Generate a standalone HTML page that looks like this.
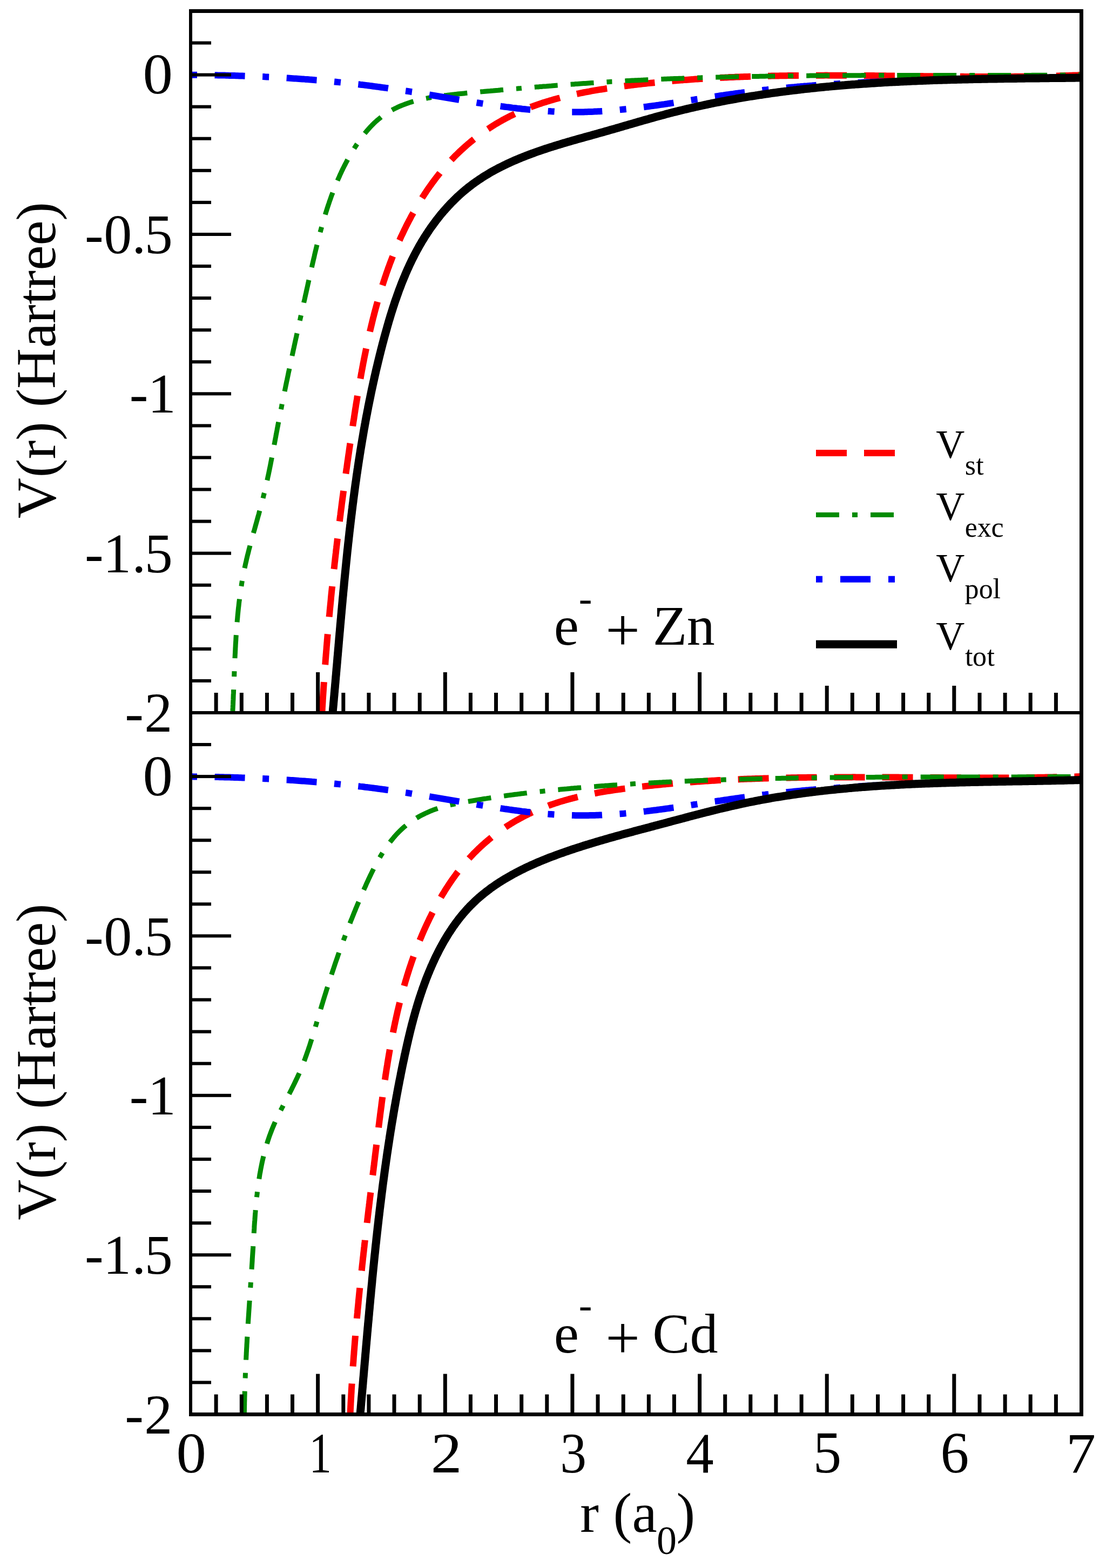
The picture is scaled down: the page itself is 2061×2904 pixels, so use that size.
<!DOCTYPE html><html><head><meta charset="utf-8"><title>V(r) plot</title><style>html,body{margin:0;padding:0;background:#fff;}svg{display:block;}</style></head><body><svg width="2061" height="2904" viewBox="0 0 2061 2904"><rect x="0" y="0" width="2061" height="2904" fill="#fff"/>
<defs><clipPath id="ct"><rect x="353" y="20.5" width="1649.5" height="1299.5"/></clipPath><clipPath id="cb"><rect x="353" y="1320" width="1649.5" height="1299.5"/></clipPath></defs>
<g clip-path="url(#ct)">
<path d="M596.3,1320.0 L596.5,1317.0 L596.7,1314.0 L596.8,1311.0 L597.0,1308.0 L597.2,1305.0 L597.4,1302.0 L597.6,1299.1 L597.7,1296.1 L597.9,1293.1 L598.1,1290.1 L598.3,1287.1 L598.5,1284.1 L598.7,1281.1 L598.9,1278.1 L599.1,1275.1 L599.3,1272.1 L599.5,1269.1 L599.7,1266.1 L599.9,1263.1 L600.1,1260.1 L600.3,1257.1 L600.5,1254.1 L600.7,1251.2 L600.9,1248.2 L601.2,1245.2 L601.4,1242.2 L601.6,1239.2 L601.8,1236.2 L602.0,1233.2 L602.3,1230.2 L602.5,1227.2 L602.7,1224.2 L602.9,1221.2 L603.2,1218.2 L603.4,1215.3 L603.6,1212.3 L603.9,1209.3 L604.1,1206.3 L604.4,1203.3 L604.6,1200.3 L604.8,1197.3 L605.1,1194.3 L605.3,1191.3 L605.6,1188.3 L605.8,1185.4 L606.1,1182.4 L606.3,1179.4 L606.6,1176.4 L606.9,1173.4 L607.1,1170.4 L607.4,1167.4 L607.6,1164.4 L607.9,1161.4 L608.2,1158.5 L608.4,1155.5 L608.7,1152.5 L609.0,1149.5 L609.2,1146.5 L609.5,1143.5 L609.8,1140.5 L610.1,1137.5 L610.4,1134.6 L610.6,1131.6 L610.9,1128.6 L611.2,1125.6 L611.5,1122.6 L611.8,1119.6 L612.1,1116.6 L612.4,1113.7 L612.7,1110.7 L612.9,1107.7 L613.2,1104.7 L613.5,1101.7 L613.8,1098.7 L614.1,1095.7 L614.4,1092.8 L614.7,1089.8 L615.1,1086.8 L615.4,1083.8 L615.7,1080.8 L616.0,1077.8 L616.3,1074.9 L616.6,1071.9 L616.9,1068.9 L617.2,1065.9 L617.6,1062.9 L617.9,1059.9 L618.2,1057.0 L618.5,1054.0 L618.9,1051.0 L619.2,1048.0 L619.5,1045.0 L619.8,1042.0 L620.2,1039.1 L620.5,1036.1 L620.8,1033.1 L621.2,1030.1 L621.5,1027.1 L621.9,1024.2 L622.2,1021.2 L622.5,1018.2 L622.9,1015.2 L623.2,1012.2 L623.6,1009.3 L623.9,1006.3 L624.3,1003.3 L624.6,1000.3 L625.0,997.3 L625.3,994.4 L625.7,991.4 L626.1,988.4 L626.4,985.4 L626.8,982.4 L627.1,979.5 L627.5,976.5 L627.9,973.5 L628.2,970.5 L628.6,967.6 L629.0,964.6 L629.3,961.6 L629.7,958.6 L630.1,955.6 L630.5,952.7 L630.8,949.7 L631.2,946.7 L631.6,943.7 L632.0,940.8 L632.4,937.8 L632.7,934.8 L633.1,931.8 L633.5,928.9 L633.9,925.9 L634.3,922.9 L634.7,919.9 L635.1,917.0 L635.5,914.0 L635.9,911.0 L636.3,908.0 L636.7,905.1 L637.1,902.1 L637.5,899.1 L637.9,896.2 L638.3,893.2 L638.7,890.2 L639.1,887.2 L639.5,884.3 L639.9,881.3 L640.3,878.3 L640.7,875.3 L641.1,872.4 L641.5,869.4 L642.0,866.4 L642.4,863.5 L642.8,860.5 L643.2,857.5 L643.6,854.6 L644.1,851.6 L644.5,848.6 L644.9,845.6 L645.3,842.7 L645.8,839.7 L646.2,836.7 L646.6,833.8 L647.0,830.8 L647.5,827.8 L647.9,824.9 L648.3,821.9 L648.8,818.9 L649.2,816.0 L649.7,813.0 L650.1,810.0 L650.5,807.1 L651.0,804.1 L651.4,801.1 L651.9,798.1 L652.3,795.2 L652.8,792.2 L653.2,789.2 L653.6,786.3 L654.1,783.3 L654.5,780.4 L655.0,777.4 L655.5,774.4 L655.9,771.5 L656.4,768.5 L656.8,765.5 L657.3,762.6 L657.7,759.6 L658.2,756.6 L658.7,753.7 L659.1,750.7 L659.6,747.7 L660.1,744.8 L660.6,741.8 L661.1,738.9 L661.5,735.9 L662.0,732.9 L662.5,730.0 L663.0,727.0 L663.5,724.1 L664.0,721.1 L664.5,718.1 L665.0,715.2 L665.5,712.2 L666.0,709.3 L666.5,706.3 L667.0,703.4 L667.6,700.4 L668.1,697.5 L668.6,694.5 L669.1,691.5 L669.7,688.6 L670.2,685.6 L670.8,682.7 L671.3,679.7 L671.9,676.8 L672.4,673.8 L673.0,670.9 L673.6,668.0 L674.1,665.0 L674.7,662.1 L675.3,659.1 L675.9,656.2 L676.5,653.2 L677.1,650.3 L677.7,647.4 L678.3,644.4 L678.9,641.5 L679.5,638.6 L680.2,635.6 L680.8,632.7 L681.4,629.8 L682.1,626.8 L682.7,623.9 L683.4,621.0 L684.0,618.0 L684.7,615.1 L685.4,612.2 L686.1,609.3 L686.8,606.4 L687.5,603.4 L688.2,600.5 L688.9,597.6 L689.6,594.7 L690.3,591.8 L691.0,588.9 L691.8,586.0 L692.5,583.1 L693.3,580.2 L694.0,577.3 L694.8,574.4 L695.6,571.5 L696.4,568.6 L697.2,565.7 L698.0,562.8 L698.8,559.9 L699.6,557.0 L700.4,554.1 L701.3,551.2 L702.1,548.4 L702.9,545.5 L703.8,542.6 L704.7,539.7 L705.6,536.9 L706.4,534.0 L707.3,531.1 L708.2,528.3 L709.2,525.4 L710.1,522.6 L711.0,519.7 L712.0,516.9 L712.9,514.0 L713.9,511.2 L714.9,508.3 L715.8,505.5 L716.8,502.7 L717.8,499.9 L718.8,497.0 L719.9,494.2 L720.9,491.4 L721.9,488.6 L723.0,485.8 L724.1,483.0 L725.1,480.2 L726.2,477.4 L727.3,474.6 L728.4,471.8 L729.6,469.0 L730.7,466.2 L731.8,463.5 L733.0,460.7 L734.2,457.9 L735.3,455.2 L736.5,452.4 L737.7,449.7 L738.9,446.9 L740.2,444.2 L741.4,441.4 L742.6,438.7 L743.9,436.0 L745.2,433.3 L746.5,430.6 L747.8,427.9 L749.1,425.2 L750.4,422.5 L751.7,419.8 L753.1,417.1 L754.4,414.4 L755.8,411.8 L757.2,409.1 L758.6,406.4 L760.0,403.8 L761.4,401.1 L762.8,398.5 L764.3,395.9 L765.7,393.3 L767.2,390.6 L768.7,388.0 L770.2,385.4 L771.7,382.9 L773.2,380.3 L774.8,377.7 L776.3,375.1 L777.9,372.6 L779.5,370.0 L781.1,367.5 L782.7,364.9 L784.3,362.4 L785.9,359.9 L787.6,357.4 L789.2,354.9 L790.9,352.4 L792.6,349.9 L794.3,347.5 L796.0,345.0 L797.8,342.6 L799.5,340.1 L801.3,337.7 L803.1,335.3 L804.9,332.9 L806.7,330.5 L808.5,328.1 L810.4,325.8 L812.2,323.4 L814.1,321.1 L816.0,318.7 L817.9,316.4 L819.8,314.1 L821.7,311.8 L823.7,309.5 L825.7,307.3 L827.7,305.0 L829.7,302.8 L831.7,300.6 L833.7,298.4 L835.8,296.2 L837.8,294.0 L839.9,291.9 L842.0,289.7 L844.1,287.6 L846.3,285.5 L848.4,283.4 L850.6,281.3 L852.8,279.3 L855.0,277.2 L857.2,275.2 L859.4,273.2 L861.6,271.2 L863.9,269.2 L866.2,267.2 L868.5,265.3 L870.8,263.4 L873.1,261.5 L875.4,259.6 L877.8,257.7 L880.1,255.9 L882.5,254.0 L884.9,252.2 L887.3,250.4 L889.7,248.6 L892.1,246.9 L894.6,245.1 L897.0,243.4 L899.5,241.7 L902.0,240.0 L904.5,238.4 L907.0,236.7 L909.5,235.1 L912.0,233.5 L914.6,231.9 L917.1,230.3 L919.7,228.8 L922.3,227.3 L924.9,225.7 L927.5,224.3 L930.1,222.8 L932.7,221.3 L935.4,219.9 L938.0,218.5 L940.7,217.1 L943.3,215.7 L946.0,214.4 L948.7,213.1 L951.4,211.8 L954.1,210.5 L956.9,209.2 L959.6,208.0 L962.3,206.8 L965.1,205.6 L967.8,204.4 L970.6,203.2 L973.4,202.1 L976.2,201.0 L978.9,199.8 L981.7,198.8 L984.5,197.7 L987.4,196.7 L990.2,195.6 L993.0,194.6 L995.8,193.6 L998.7,192.6 L1001.5,191.7 L1004.4,190.7 L1007.2,189.8 L1010.1,188.9 L1012.9,188.0 L1015.8,187.2 L1018.7,186.3 L1021.6,185.5 L1024.4,184.6 L1027.3,183.8 L1030.2,183.0 L1033.1,182.2 L1036.0,181.5 L1038.9,180.7 L1041.8,180.0 L1044.7,179.2 L1047.7,178.5 L1050.6,177.8 L1053.5,177.1 L1056.4,176.5 L1059.3,175.8 L1062.3,175.2 L1065.2,174.5 L1068.1,173.9 L1071.1,173.3 L1074.0,172.7 L1077.0,172.1 L1079.9,171.5 L1082.8,170.9 L1085.8,170.4 L1088.7,169.8 L1091.7,169.3 L1094.6,168.7 L1097.6,168.2 L1100.5,167.7 L1103.5,167.2 L1106.5,166.7 L1109.4,166.2 L1112.4,165.7 L1115.3,165.3 L1118.3,164.8 L1121.3,164.3 L1124.2,163.9 L1127.2,163.4 L1130.2,163.0 L1133.1,162.6 L1136.1,162.1 L1139.1,161.7 L1142.1,161.3 L1145.0,160.9 L1148.0,160.5 L1151.0,160.1 L1154.0,159.7 L1156.9,159.3 L1159.9,159.0 L1162.9,158.6 L1165.9,158.2 L1168.8,157.9 L1171.8,157.5 L1174.8,157.1 L1177.8,156.8 L1180.8,156.4 L1183.7,156.1 L1186.7,155.7 L1189.7,155.4 L1192.7,155.1 L1195.7,154.8 L1198.6,154.4 L1201.6,154.1 L1204.6,153.8 L1207.6,153.5 L1210.6,153.2 L1213.6,152.9 L1216.5,152.6 L1219.5,152.3 L1222.5,152.0 L1225.5,151.7 L1228.5,151.4 L1231.5,151.2 L1234.5,150.9 L1237.5,150.6 L1240.4,150.4 L1243.4,150.1 L1246.4,149.8 L1249.4,149.6 L1252.4,149.3 L1255.4,149.1 L1258.4,148.8 L1261.4,148.6 L1264.4,148.4 L1267.4,148.1 L1270.3,147.9 L1273.3,147.7 L1276.3,147.5 L1279.3,147.3 L1282.3,147.1 L1285.3,146.8 L1288.3,146.6 L1291.3,146.4 L1294.3,146.2 L1297.3,146.1 L1300.3,145.9 L1303.3,145.7 L1306.3,145.5 L1309.3,145.3 L1312.3,145.1 L1315.2,145.0 L1318.2,144.8 L1321.2,144.6 L1324.2,144.5 L1327.2,144.3 L1330.2,144.2 L1333.2,144.0 L1336.2,143.8 L1339.2,143.7 L1342.2,143.6 L1345.2,143.4 L1348.2,143.3 L1351.2,143.1 L1354.2,143.0 L1357.2,142.9 L1360.2,142.8 L1363.2,142.6 L1366.2,142.5 L1369.2,142.4 L1372.2,142.3 L1375.2,142.2 L1378.2,142.1 L1381.2,142.0 L1384.2,141.9 L1387.2,141.8 L1390.2,141.7 L1393.2,141.6 L1396.2,141.5 L1399.2,141.4 L1402.2,141.3 L1405.2,141.2 L1408.2,141.1 L1411.2,141.1 L1414.2,141.0 L1417.2,140.9 L1420.2,140.8 L1423.2,140.8 L1426.2,140.7 L1429.2,140.6 L1432.2,140.6 L1435.2,140.5 L1438.2,140.5 L1441.2,140.4 L1444.2,140.3 L1447.2,140.3 L1450.2,140.2 L1453.2,140.2 L1456.2,140.2 L1459.2,140.1 L1462.2,140.1 L1465.2,140.0 L1468.2,140.0 L1471.2,140.0 L1474.2,139.9 L1477.2,139.9 L1480.2,139.9 L1483.2,139.8 L1486.2,139.8 L1489.2,139.8 L1492.2,139.8 L1495.2,139.8 L1498.2,139.7 L1501.2,139.7 L1504.2,139.7 L1507.2,139.7 L1510.2,139.7 L1513.2,139.7 L1516.2,139.7 L1519.2,139.7 L1522.2,139.7 L1525.2,139.7 L1528.2,139.6 L1531.2,139.6 L1534.2,139.7 L1537.2,139.7 L1540.2,139.7 L1543.2,139.7 L1546.2,139.7 L1549.2,139.7 L1552.2,139.7 L1555.2,139.7 L1558.2,139.7 L1561.2,139.7 L1564.2,139.7 L1567.2,139.7 L1570.2,139.8 L1573.2,139.8 L1576.2,139.8 L1579.1,139.8 L1582.1,139.8 L1585.1,139.8 L1588.1,139.9 L1591.1,139.9 L1594.1,139.9 L1597.1,139.9 L1600.1,140.0 L1603.1,140.0 L1606.1,140.0 L1609.1,140.0 L1612.1,140.1 L1615.1,140.1 L1618.1,140.1 L1621.1,140.2 L1624.1,140.2 L1627.1,140.2 L1630.1,140.2 L1633.1,140.3 L1636.1,140.3 L1639.1,140.3 L1642.1,140.4 L1645.1,140.4 L1648.1,140.4 L1651.1,140.5 L1654.1,140.5 L1657.1,140.5 L1660.1,140.6 L1663.1,140.6 L1666.1,140.6 L1669.1,140.7 L1672.1,140.7 L1675.1,140.7 L1678.1,140.8 L1681.1,140.8 L1684.1,140.9 L1687.1,140.9 L1690.1,140.9 L1693.1,141.0 L1696.1,141.0 L1699.1,141.0 L1702.1,141.1 L1705.1,141.1 L1708.1,141.1 L1711.1,141.2 L1714.1,141.2 L1717.1,141.2 L1720.1,141.3 L1723.1,141.3 L1726.1,141.3 L1729.1,141.4 L1732.1,141.4 L1735.1,141.4 L1738.1,141.5 L1741.1,141.5 L1744.1,141.5 L1747.1,141.5 L1750.1,141.6 L1753.1,141.6 L1756.1,141.6 L1759.1,141.7 L1762.1,141.7 L1765.1,141.7 L1768.1,141.7 L1771.1,141.7 L1774.1,141.8 L1777.1,141.8 L1780.1,141.8 L1783.1,141.8 L1786.1,141.9 L1789.1,141.9 L1792.1,141.9 L1795.1,141.9 L1798.1,141.9 L1801.1,141.9 L1804.1,141.9 L1807.1,142.0 L1810.1,142.0 L1813.1,142.0 L1816.1,142.0 L1819.1,142.0 L1822.1,142.0 L1825.1,142.0 L1828.1,142.0 L1831.1,142.0 L1834.1,142.0 L1837.1,142.0 L1840.1,142.0 L1843.1,142.0 L1846.1,142.0 L1849.1,142.0 L1852.1,142.0 L1855.1,142.0 L1858.1,142.0 L1861.1,141.9 L1864.1,141.9 L1867.1,141.9 L1870.1,141.9 L1873.1,141.9 L1876.1,141.9 L1879.1,141.8 L1882.1,141.8 L1885.1,141.8 L1888.1,141.7 L1891.1,141.7 L1894.1,141.7 L1897.1,141.7 L1900.1,141.6 L1903.1,141.6 L1906.1,141.5 L1909.1,141.5 L1912.1,141.4 L1915.1,141.4 L1918.1,141.4 L1921.1,141.3 L1924.1,141.2 L1927.1,141.2 L1930.1,141.1 L1933.1,141.1 L1936.1,141.0 L1939.1,140.9 L1942.1,140.9 L1945.1,140.8 L1948.1,140.7 L1951.1,140.7 L1954.1,140.6 L1957.1,140.5 L1960.1,140.4 L1963.1,140.3 L1966.1,140.3 L1969.1,140.2 L1972.1,140.1 L1975.1,140.0 L1978.1,139.9 L1981.1,139.8 L1984.1,139.7 L1987.1,139.6 L1990.1,139.5 L1993.1,139.4 L1996.1,139.3 L1999.1,139.1 L2002.1,139.0 L2003.0,139.0" fill="none" stroke="#ff0000" stroke-width="12" stroke-linejoin="round" stroke-linecap="butt" stroke-dasharray="57 32" stroke-dashoffset="0"/>
<path d="M430.7,1320.0 L430.9,1317.0 L431.0,1314.0 L431.2,1311.0 L431.3,1308.0 L431.5,1305.0 L431.6,1302.0 L431.7,1299.0 L431.9,1296.0 L432.0,1293.0 L432.1,1290.0 L432.2,1287.0 L432.4,1284.0 L432.5,1281.0 L432.6,1278.0 L432.7,1275.0 L432.9,1272.0 L433.0,1269.0 L433.1,1266.1 L433.2,1263.1 L433.3,1260.1 L433.4,1257.1 L433.6,1254.1 L433.7,1251.1 L433.8,1248.1 L433.9,1245.1 L434.0,1242.1 L434.2,1239.1 L434.3,1236.1 L434.4,1233.1 L434.5,1230.1 L434.7,1227.1 L434.8,1224.1 L434.9,1221.1 L435.0,1218.1 L435.2,1215.1 L435.3,1212.1 L435.5,1209.1 L435.6,1206.1 L435.8,1203.1 L435.9,1200.1 L436.1,1197.1 L436.2,1194.1 L436.4,1191.1 L436.6,1188.1 L436.8,1185.1 L436.9,1182.1 L437.1,1179.1 L437.3,1176.2 L437.5,1173.2 L437.7,1170.2 L437.9,1167.2 L438.1,1164.2 L438.4,1161.2 L438.6,1158.2 L438.8,1155.2 L439.1,1152.2 L439.3,1149.2 L439.6,1146.2 L439.9,1143.3 L440.1,1140.3 L440.4,1137.3 L440.7,1134.3 L441.0,1131.3 L441.3,1128.3 L441.6,1125.3 L442.0,1122.4 L442.3,1119.4 L442.6,1116.4 L443.0,1113.4 L443.4,1110.4 L443.7,1107.5 L444.1,1104.5 L444.5,1101.5 L444.9,1098.5 L445.4,1095.6 L445.8,1092.6 L446.2,1089.6 L446.7,1086.7 L447.2,1083.7 L447.6,1080.7 L448.1,1077.8 L448.6,1074.8 L449.1,1071.9 L449.7,1068.9 L450.2,1066.0 L450.8,1063.0 L451.4,1060.1 L451.9,1057.1 L452.5,1054.2 L453.2,1051.3 L453.8,1048.3 L454.4,1045.4 L455.1,1042.5 L455.8,1039.5 L456.4,1036.6 L457.1,1033.7 L457.8,1030.8 L458.5,1027.9 L459.3,1025.0 L460.0,1022.1 L460.7,1019.2 L461.5,1016.2 L462.3,1013.3 L463.0,1010.4 L463.8,1007.5 L464.6,1004.6 L465.4,1001.8 L466.1,998.9 L466.9,996.0 L467.7,993.1 L468.5,990.2 L469.3,987.3 L470.1,984.4 L471.0,981.5 L471.8,978.6 L472.6,975.7 L473.4,972.8 L474.2,970.0 L475.0,967.1 L475.8,964.2 L476.6,961.3 L477.4,958.4 L478.2,955.5 L479.1,952.6 L479.8,949.7 L480.6,946.8 L481.4,943.9 L482.2,941.0 L483.0,938.2 L483.8,935.3 L484.5,932.4 L485.3,929.4 L486.0,926.5 L486.8,923.6 L487.5,920.7 L488.2,917.8 L488.9,914.9 L489.7,912.0 L490.3,909.1 L491.0,906.1 L491.7,903.2 L492.4,900.3 L493.0,897.4 L493.7,894.4 L494.3,891.5 L495.0,888.6 L495.6,885.7 L496.2,882.7 L496.9,879.8 L497.5,876.9 L498.1,873.9 L498.7,871.0 L499.3,868.0 L499.9,865.1 L500.5,862.2 L501.1,859.2 L501.6,856.3 L502.2,853.3 L502.8,850.4 L503.4,847.4 L503.9,844.5 L504.5,841.5 L505.0,838.6 L505.6,835.6 L506.2,832.7 L506.7,829.7 L507.3,826.8 L507.8,823.9 L508.4,820.9 L508.9,818.0 L509.5,815.0 L510.0,812.1 L510.6,809.1 L511.1,806.2 L511.7,803.2 L512.2,800.3 L512.8,797.3 L513.3,794.4 L513.9,791.4 L514.5,788.5 L515.0,785.5 L515.6,782.6 L516.2,779.6 L516.7,776.7 L517.3,773.7 L517.9,770.8 L518.4,767.9 L519.0,764.9 L519.6,762.0 L520.2,759.0 L520.8,756.1 L521.4,753.1 L521.9,750.2 L522.5,747.3 L523.1,744.3 L523.7,741.4 L524.3,738.4 L524.9,735.5 L525.5,732.5 L526.1,729.6 L526.7,726.7 L527.3,723.7 L527.9,720.8 L528.5,717.9 L529.1,714.9 L529.7,712.0 L530.3,709.0 L530.9,706.1 L531.6,703.2 L532.2,700.2 L532.8,697.3 L533.4,694.4 L534.0,691.4 L534.6,688.5 L535.3,685.6 L535.9,682.6 L536.5,679.7 L537.1,676.7 L537.8,673.8 L538.4,670.9 L539.0,667.9 L539.6,665.0 L540.3,662.1 L540.9,659.1 L541.5,656.2 L542.2,653.3 L542.8,650.4 L543.4,647.4 L544.1,644.5 L544.7,641.6 L545.4,638.6 L546.0,635.7 L546.6,632.8 L547.3,629.8 L547.9,626.9 L548.6,624.0 L549.2,621.0 L549.9,618.1 L550.5,615.2 L551.1,612.3 L551.8,609.3 L552.4,606.4 L553.1,603.5 L553.7,600.5 L554.4,597.6 L555.0,594.7 L555.7,591.7 L556.3,588.8 L557.0,585.9 L557.6,583.0 L558.3,580.0 L558.9,577.1 L559.6,574.2 L560.2,571.2 L560.9,568.3 L561.5,565.4 L562.2,562.5 L562.8,559.5 L563.5,556.6 L564.2,553.7 L564.8,550.8 L565.5,547.8 L566.1,544.9 L566.8,542.0 L567.4,539.0 L568.1,536.1 L568.7,533.2 L569.4,530.3 L570.0,527.3 L570.7,524.4 L571.3,521.5 L572.0,518.5 L572.7,515.6 L573.3,512.7 L574.0,509.8 L574.6,506.8 L575.3,503.9 L575.9,501.0 L576.6,498.1 L577.3,495.1 L577.9,492.2 L578.6,489.3 L579.2,486.4 L579.9,483.4 L580.6,480.5 L581.3,477.6 L582.0,474.7 L582.6,471.7 L583.3,468.8 L584.0,465.9 L584.7,463.0 L585.4,460.1 L586.1,457.2 L586.8,454.2 L587.6,451.3 L588.3,448.4 L589.0,445.5 L589.8,442.6 L590.5,439.7 L591.2,436.8 L592.0,433.9 L592.8,431.0 L593.5,428.1 L594.3,425.2 L595.1,422.3 L595.9,419.4 L596.7,416.5 L597.5,413.6 L598.4,410.7 L599.2,407.9 L600.0,405.0 L600.9,402.1 L601.8,399.2 L602.6,396.4 L603.5,393.5 L604.4,390.6 L605.3,387.8 L606.2,384.9 L607.2,382.1 L608.1,379.2 L609.1,376.4 L610.0,373.5 L611.0,370.7 L612.0,367.9 L613.0,365.0 L614.0,362.2 L615.1,359.4 L616.1,356.6 L617.2,353.8 L618.3,351.0 L619.4,348.2 L620.5,345.4 L621.6,342.6 L622.7,339.9 L623.9,337.1 L625.1,334.3 L626.2,331.6 L627.5,328.8 L628.7,326.1 L629.9,323.3 L631.2,320.6 L632.4,317.9 L633.7,315.2 L635.0,312.5 L636.4,309.8 L637.7,307.1 L639.1,304.5 L640.5,301.8 L641.9,299.1 L643.3,296.5 L644.7,293.9 L646.2,291.3 L647.7,288.6 L649.2,286.0 L650.7,283.5 L652.2,280.9 L653.8,278.3 L655.4,275.8 L657.0,273.2 L658.6,270.7 L660.2,268.2 L661.9,265.7 L663.6,263.2 L665.3,260.8 L667.0,258.3 L668.8,255.9 L670.6,253.5 L672.4,251.1 L674.2,248.7 L676.1,246.4 L678.0,244.0 L679.9,241.8 L681.9,239.5 L683.9,237.2 L685.9,235.0 L688.0,232.9 L690.1,230.7 L692.2,228.6 L694.4,226.5 L696.6,224.5 L698.9,222.5 L701.2,220.6 L703.5,218.7 L705.8,216.8 L708.2,215.0 L710.7,213.3 L713.1,211.6 L715.7,209.9 L718.2,208.3 L720.8,206.8 L723.3,205.3 L726.0,203.8 L728.6,202.4 L731.3,201.0 L734.0,199.7 L736.7,198.4 L739.4,197.2 L742.2,196.0 L745.0,194.9 L747.7,193.8 L750.5,192.7 L753.4,191.7 L756.2,190.7 L759.1,189.8 L761.9,188.9 L764.8,188.0 L767.7,187.2 L770.6,186.4 L773.5,185.7 L776.4,184.9 L779.3,184.3 L782.2,183.6 L785.2,183.0 L788.1,182.4 L791.1,181.8 L794.0,181.2 L797.0,180.7 L799.9,180.2 L802.9,179.7 L805.8,179.3 L808.8,178.8 L811.8,178.4 L814.8,178.0 L817.7,177.6 L820.7,177.2 L823.7,176.8 L826.7,176.5 L829.6,176.1 L832.6,175.8 L835.6,175.4 L838.6,175.1 L841.6,174.7 L844.5,174.4 L847.5,174.1 L850.5,173.8 L853.5,173.5 L856.5,173.2 L859.5,172.9 L862.4,172.6 L865.4,172.3 L868.4,172.0 L871.4,171.7 L874.4,171.5 L877.4,171.2 L880.4,170.9 L883.4,170.6 L886.3,170.4 L889.3,170.1 L892.3,169.8 L895.3,169.6 L898.3,169.3 L901.3,169.0 L904.3,168.7 L907.3,168.5 L910.2,168.2 L913.2,168.0 L916.2,167.7 L919.2,167.4 L922.2,167.2 L925.2,166.9 L928.2,166.6 L931.2,166.4 L934.2,166.1 L937.1,165.9 L940.1,165.6 L943.1,165.3 L946.1,165.1 L949.1,164.8 L952.1,164.6 L955.1,164.3 L958.1,164.1 L961.1,163.8 L964.0,163.6 L967.0,163.3 L970.0,163.1 L973.0,162.8 L976.0,162.6 L979.0,162.3 L982.0,162.1 L985.0,161.8 L988.0,161.6 L991.0,161.3 L993.9,161.1 L996.9,160.9 L999.9,160.6 L1002.9,160.4 L1005.9,160.1 L1008.9,159.9 L1011.9,159.7 L1014.9,159.4 L1017.9,159.2 L1020.9,159.0 L1023.8,158.7 L1026.8,158.5 L1029.8,158.3 L1032.8,158.1 L1035.8,157.8 L1038.8,157.6 L1041.8,157.4 L1044.8,157.2 L1047.8,156.9 L1050.8,156.7 L1053.8,156.5 L1056.8,156.3 L1059.8,156.1 L1062.7,155.9 L1065.7,155.6 L1068.7,155.4 L1071.7,155.2 L1074.7,155.0 L1077.7,154.8 L1080.7,154.6 L1083.7,154.4 L1086.7,154.2 L1089.7,154.0 L1092.7,153.8 L1095.7,153.6 L1098.7,153.4 L1101.7,153.2 L1104.6,153.0 L1107.6,152.8 L1110.6,152.6 L1113.6,152.4 L1116.6,152.3 L1119.6,152.1 L1122.6,151.9 L1125.6,151.7 L1128.6,151.5 L1131.6,151.3 L1134.6,151.2 L1137.6,151.0 L1140.6,150.8 L1143.6,150.6 L1146.6,150.5 L1149.6,150.3 L1152.6,150.1 L1155.6,150.0 L1158.5,149.8 L1161.5,149.6 L1164.5,149.5 L1167.5,149.3 L1170.5,149.1 L1173.5,149.0 L1176.5,148.8 L1179.5,148.7 L1182.5,148.5 L1185.5,148.4 L1188.5,148.2 L1191.5,148.1 L1194.5,147.9 L1197.5,147.8 L1200.5,147.7 L1203.5,147.5 L1206.5,147.4 L1209.5,147.2 L1212.5,147.1 L1215.5,147.0 L1218.5,146.8 L1221.5,146.7 L1224.5,146.6 L1227.5,146.5 L1230.5,146.3 L1233.5,146.2 L1236.5,146.1 L1239.5,146.0 L1242.5,145.8 L1245.5,145.7 L1248.5,145.6 L1251.4,145.5 L1254.4,145.4 L1257.4,145.3 L1260.4,145.2 L1263.4,145.1 L1266.4,144.9 L1269.4,144.8 L1272.4,144.7 L1275.4,144.6 L1278.4,144.5 L1281.4,144.4 L1284.4,144.3 L1287.4,144.2 L1290.4,144.1 L1293.4,144.0 L1296.4,143.9 L1299.4,143.8 L1302.4,143.8 L1305.4,143.7 L1308.4,143.6 L1311.4,143.5 L1314.4,143.4 L1317.4,143.3 L1320.4,143.2 L1323.4,143.2 L1326.4,143.1 L1329.4,143.0 L1332.4,142.9 L1335.4,142.8 L1338.4,142.8 L1341.4,142.7 L1344.4,142.6 L1347.4,142.5 L1350.4,142.5 L1353.4,142.4 L1356.4,142.3 L1359.4,142.3 L1362.4,142.2 L1365.4,142.1 L1368.4,142.1 L1371.4,142.0 L1374.4,141.9 L1377.4,141.9 L1380.4,141.8 L1383.4,141.7 L1386.4,141.7 L1389.4,141.6 L1392.4,141.6 L1395.4,141.5 L1398.4,141.5 L1401.4,141.4 L1404.4,141.4 L1407.4,141.3 L1410.4,141.3 L1413.4,141.2 L1416.4,141.2 L1419.4,141.1 L1422.4,141.1 L1425.4,141.0 L1428.4,141.0 L1431.4,140.9 L1434.4,140.9 L1437.4,140.8 L1440.4,140.8 L1443.4,140.8 L1446.4,140.7 L1449.4,140.7 L1452.4,140.6 L1455.4,140.6 L1458.4,140.6 L1461.4,140.5 L1464.4,140.5 L1467.4,140.5 L1470.4,140.4 L1473.4,140.4 L1476.4,140.4 L1479.4,140.3 L1482.4,140.3 L1485.4,140.3 L1488.4,140.2 L1491.4,140.2 L1494.4,140.2 L1497.4,140.2 L1500.4,140.1 L1503.4,140.1 L1506.4,140.1 L1509.4,140.1 L1512.4,140.0 L1515.4,140.0 L1518.4,140.0 L1521.4,140.0 L1524.4,140.0 L1527.4,139.9 L1530.4,139.9 L1533.4,139.9 L1536.4,139.9 L1539.4,139.9 L1542.4,139.9 L1545.4,139.8 L1548.4,139.8 L1551.4,139.8 L1554.4,139.8 L1557.4,139.8 L1560.4,139.8 L1563.4,139.8 L1566.4,139.7 L1569.4,139.7 L1572.4,139.7 L1575.4,139.7 L1578.4,139.7 L1581.4,139.7 L1584.4,139.7 L1587.4,139.7 L1590.4,139.7 L1593.4,139.7 L1596.4,139.6 L1599.4,139.6 L1602.4,139.6 L1605.4,139.6 L1608.4,139.6 L1611.4,139.6 L1614.4,139.6 L1617.4,139.6 L1620.4,139.6 L1623.4,139.6 L1626.4,139.6 L1629.4,139.6 L1632.4,139.6 L1635.4,139.6 L1638.4,139.6 L1641.4,139.6 L1644.4,139.6 L1647.4,139.6 L1650.4,139.6 L1653.4,139.6 L1656.4,139.6 L1659.4,139.6 L1662.4,139.6 L1665.4,139.6 L1668.4,139.6 L1671.4,139.6 L1674.4,139.6 L1677.4,139.6 L1680.4,139.6 L1683.4,139.6 L1686.4,139.6 L1689.4,139.6 L1692.4,139.6 L1695.4,139.6 L1698.4,139.6 L1701.4,139.6 L1704.4,139.6 L1707.4,139.6 L1710.4,139.6 L1713.4,139.6 L1716.4,139.6 L1719.4,139.6 L1722.4,139.6 L1725.4,139.6 L1728.4,139.6 L1731.4,139.6 L1734.4,139.6 L1737.4,139.6 L1740.4,139.6 L1743.4,139.6 L1746.4,139.6 L1749.4,139.6 L1752.4,139.6 L1755.4,139.6 L1758.4,139.6 L1761.4,139.6 L1764.4,139.6 L1767.4,139.6 L1770.4,139.6 L1773.4,139.6 L1776.4,139.6 L1779.4,139.6 L1782.4,139.6 L1785.4,139.6 L1788.4,139.6 L1791.4,139.6 L1794.4,139.6 L1797.4,139.6 L1800.4,139.6 L1803.4,139.6 L1806.4,139.6 L1809.4,139.6 L1812.4,139.6 L1815.4,139.6 L1818.4,139.6 L1821.4,139.6 L1824.4,139.6 L1827.4,139.6 L1830.4,139.6 L1833.4,139.6 L1836.4,139.6 L1839.4,139.6 L1842.4,139.6 L1845.4,139.6 L1848.4,139.6 L1851.4,139.5 L1854.4,139.5 L1857.4,139.5 L1860.4,139.5 L1863.4,139.5 L1866.4,139.5 L1869.4,139.5 L1872.4,139.5 L1875.4,139.5 L1878.4,139.5 L1881.4,139.5 L1884.4,139.5 L1887.4,139.5 L1890.4,139.4 L1893.4,139.4 L1896.4,139.4 L1899.4,139.4 L1902.4,139.4 L1905.4,139.4 L1908.4,139.4 L1911.4,139.3 L1914.4,139.3 L1917.4,139.3 L1920.4,139.3 L1923.4,139.3 L1926.4,139.3 L1929.4,139.2 L1932.4,139.2 L1935.4,139.2 L1938.4,139.2 L1941.4,139.2 L1944.4,139.2 L1947.4,139.1 L1950.4,139.1 L1953.4,139.1 L1956.4,139.1 L1959.4,139.0 L1962.4,139.0 L1965.4,139.0 L1968.4,139.0 L1971.4,138.9 L1974.4,138.9 L1977.4,138.9 L1980.4,138.8 L1983.4,138.8 L1986.4,138.8 L1989.4,138.7 L1992.4,138.7 L1995.4,138.7 L1998.4,138.6 L2001.4,138.6 L2003.0,138.6" fill="none" stroke="#008b00" stroke-width="9" stroke-linejoin="round" stroke-linecap="butt" stroke-dasharray="43 24 10 24 43 24" stroke-dashoffset="0"/>
<path d="M353.0,138.7 L356.0,138.7 L359.0,138.7 L362.0,138.8 L365.0,138.8 L368.0,138.8 L371.0,138.9 L374.0,138.9 L377.0,138.9 L380.0,139.0 L383.0,139.0 L386.0,139.1 L389.0,139.1 L392.0,139.2 L395.0,139.2 L398.0,139.3 L401.0,139.3 L404.0,139.4 L407.0,139.4 L410.0,139.5 L413.0,139.6 L416.0,139.6 L419.0,139.7 L422.0,139.8 L425.0,139.9 L428.0,139.9 L431.0,140.0 L434.0,140.1 L437.0,140.2 L440.0,140.3 L443.0,140.4 L446.0,140.5 L449.0,140.6 L452.0,140.7 L455.0,140.8 L458.0,140.9 L461.0,141.0 L464.0,141.1 L467.0,141.2 L470.0,141.4 L473.0,141.5 L476.0,141.6 L479.0,141.7 L482.0,141.9 L484.9,142.0 L487.9,142.1 L490.9,142.3 L493.9,142.4 L496.9,142.6 L499.9,142.7 L502.9,142.9 L505.9,143.0 L508.9,143.2 L511.9,143.4 L514.9,143.5 L517.9,143.7 L520.9,143.9 L523.9,144.1 L526.9,144.2 L529.9,144.4 L532.9,144.6 L535.9,144.8 L538.9,145.0 L541.9,145.2 L544.9,145.4 L547.8,145.6 L550.8,145.8 L553.8,146.0 L556.8,146.2 L559.8,146.4 L562.8,146.6 L565.8,146.9 L568.8,147.1 L571.8,147.3 L574.8,147.6 L577.8,147.8 L580.8,148.0 L583.7,148.3 L586.7,148.5 L589.7,148.8 L592.7,149.0 L595.7,149.3 L598.7,149.6 L601.7,149.8 L604.7,150.1 L607.7,150.4 L610.6,150.7 L613.6,150.9 L616.6,151.2 L619.6,151.5 L622.6,151.8 L625.6,152.1 L628.6,152.4 L631.5,152.7 L634.5,153.0 L637.5,153.3 L640.5,153.7 L643.5,154.0 L646.5,154.3 L649.4,154.6 L652.4,155.0 L655.4,155.3 L658.4,155.6 L661.4,156.0 L664.3,156.3 L667.3,156.7 L670.3,157.0 L673.3,157.4 L676.3,157.8 L679.2,158.1 L682.2,158.5 L685.2,158.9 L688.2,159.3 L691.1,159.7 L694.1,160.1 L697.1,160.5 L700.1,160.9 L703.0,161.3 L706.0,161.7 L709.0,162.1 L711.9,162.5 L714.9,162.9 L717.9,163.3 L720.9,163.8 L723.8,164.2 L726.8,164.6 L729.8,165.1 L732.7,165.5 L735.7,166.0 L738.7,166.4 L741.6,166.9 L744.6,167.3 L747.5,167.8 L750.5,168.3 L753.5,168.7 L756.4,169.2 L759.4,169.7 L762.4,170.2 L765.3,170.6 L768.3,171.1 L771.2,171.6 L774.2,172.1 L777.2,172.6 L780.1,173.1 L783.1,173.6 L786.0,174.0 L789.0,174.5 L792.0,175.0 L794.9,175.5 L797.9,176.0 L800.8,176.5 L803.8,177.0 L806.8,177.5 L809.7,178.0 L812.7,178.5 L815.6,179.0 L818.6,179.5 L821.5,180.0 L824.5,180.5 L827.5,181.0 L830.4,181.5 L833.4,182.0 L836.3,182.5 L839.3,183.0 L842.3,183.5 L845.2,184.0 L848.2,184.5 L851.1,185.0 L854.1,185.5 L857.1,186.0 L860.0,186.4 L863.0,186.9 L865.9,187.4 L868.9,187.9 L871.9,188.4 L874.8,188.8 L877.8,189.3 L880.7,189.8 L883.7,190.3 L886.7,190.7 L889.6,191.2 L892.6,191.6 L895.6,192.1 L898.5,192.5 L901.5,193.0 L904.5,193.4 L907.4,193.9 L910.4,194.3 L913.4,194.8 L916.3,195.2 L919.3,195.6 L922.3,196.0 L925.2,196.4 L928.2,196.8 L931.2,197.3 L934.2,197.7 L937.1,198.1 L940.1,198.4 L943.1,198.8 L946.1,199.2 L949.0,199.6 L952.0,199.9 L955.0,200.3 L958.0,200.7 L961.0,201.0 L963.9,201.3 L966.9,201.7 L969.9,202.0 L972.9,202.3 L975.9,202.6 L978.9,202.9 L981.8,203.2 L984.8,203.5 L987.8,203.8 L990.8,204.1 L993.8,204.3 L996.8,204.6 L999.8,204.8 L1002.8,205.1 L1005.8,205.3 L1008.7,205.5 L1011.7,205.7 L1014.7,205.9 L1017.7,206.1 L1020.7,206.3 L1023.7,206.4 L1026.7,206.6 L1029.7,206.7 L1032.7,206.9 L1035.7,207.0 L1038.7,207.1 L1041.7,207.2 L1044.7,207.3 L1047.7,207.4 L1050.7,207.4 L1053.7,207.5 L1056.7,207.5 L1059.7,207.5 L1062.7,207.6 L1065.7,207.6 L1068.7,207.5 L1071.7,207.5 L1074.7,207.5 L1077.7,207.4 L1080.7,207.4 L1083.7,207.3 L1086.7,207.2 L1089.7,207.1 L1092.7,207.0 L1095.7,206.9 L1098.7,206.8 L1101.7,206.6 L1104.7,206.5 L1107.7,206.3 L1110.7,206.2 L1113.7,206.0 L1116.7,205.8 L1119.6,205.6 L1122.6,205.4 L1125.6,205.2 L1128.6,204.9 L1131.6,204.7 L1134.6,204.4 L1137.6,204.2 L1140.6,203.9 L1143.6,203.7 L1146.6,203.4 L1149.5,203.1 L1152.5,202.8 L1155.5,202.5 L1158.5,202.2 L1161.5,201.9 L1164.5,201.6 L1167.4,201.2 L1170.4,200.9 L1173.4,200.6 L1176.4,200.2 L1179.4,199.8 L1182.3,199.5 L1185.3,199.1 L1188.3,198.8 L1191.3,198.4 L1194.3,198.0 L1197.2,197.6 L1200.2,197.2 L1203.2,196.8 L1206.1,196.4 L1209.1,196.0 L1212.1,195.6 L1215.1,195.2 L1218.0,194.8 L1221.0,194.3 L1224.0,193.9 L1226.9,193.5 L1229.9,193.1 L1232.9,192.6 L1235.8,192.2 L1238.8,191.7 L1241.8,191.3 L1244.7,190.9 L1247.7,190.4 L1250.7,190.0 L1253.6,189.5 L1256.6,189.1 L1259.6,188.6 L1262.5,188.2 L1265.5,187.7 L1268.5,187.2 L1271.4,186.8 L1274.4,186.3 L1277.4,185.9 L1280.3,185.4 L1283.3,184.9 L1286.3,184.5 L1289.2,184.0 L1292.2,183.6 L1295.2,183.1 L1298.1,182.6 L1301.1,182.2 L1304.0,181.7 L1307.0,181.3 L1310.0,180.8 L1312.9,180.4 L1315.9,179.9 L1318.9,179.5 L1321.8,179.0 L1324.8,178.6 L1327.8,178.1 L1330.7,177.7 L1333.7,177.2 L1336.7,176.8 L1339.6,176.4 L1342.6,175.9 L1345.6,175.5 L1348.6,175.1 L1351.5,174.7 L1354.5,174.3 L1357.5,173.9 L1360.4,173.4 L1363.4,173.0 L1366.4,172.6 L1369.4,172.2 L1372.3,171.9 L1375.3,171.5 L1378.3,171.1 L1381.3,170.7 L1384.2,170.3 L1387.2,170.0 L1390.2,169.6 L1393.2,169.2 L1396.2,168.9 L1399.1,168.5 L1402.1,168.2 L1405.1,167.8 L1408.1,167.5 L1411.1,167.2 L1414.0,166.8 L1417.0,166.5 L1420.0,166.2 L1423.0,165.8 L1426.0,165.5 L1428.9,165.2 L1431.9,164.9 L1434.9,164.6 L1437.9,164.3 L1440.9,164.0 L1443.9,163.7 L1446.9,163.4 L1449.8,163.1 L1452.8,162.8 L1455.8,162.5 L1458.8,162.3 L1461.8,162.0 L1464.8,161.7 L1467.8,161.4 L1470.8,161.2 L1473.7,160.9 L1476.7,160.6 L1479.7,160.4 L1482.7,160.1 L1485.7,159.9 L1488.7,159.6 L1491.7,159.4 L1494.7,159.2 L1497.7,158.9 L1500.7,158.7 L1503.6,158.5 L1506.6,158.2 L1509.6,158.0 L1512.6,157.8 L1515.6,157.6 L1518.6,157.4 L1521.6,157.2 L1524.6,156.9 L1527.6,156.7 L1530.6,156.5 L1533.6,156.3 L1536.6,156.1 L1539.6,155.9 L1542.5,155.8 L1545.5,155.6 L1548.5,155.4 L1551.5,155.2 L1554.5,155.0 L1557.5,154.8 L1560.5,154.7 L1563.5,154.5 L1566.5,154.3 L1569.5,154.1 L1572.5,154.0 L1575.5,153.8 L1578.5,153.7 L1581.5,153.5 L1584.5,153.3 L1587.5,153.2 L1590.5,153.0 L1593.5,152.9 L1596.5,152.7 L1599.5,152.6 L1602.5,152.5 L1605.5,152.3 L1608.4,152.2 L1611.4,152.1 L1614.4,151.9 L1617.4,151.8 L1620.4,151.7 L1623.4,151.5 L1626.4,151.4 L1629.4,151.3 L1632.4,151.2 L1635.4,151.1 L1638.4,150.9 L1641.4,150.8 L1644.4,150.7 L1647.4,150.6 L1650.4,150.5 L1653.4,150.4 L1656.4,150.3 L1659.4,150.2 L1662.4,150.1 L1665.4,150.0 L1668.4,149.9 L1671.4,149.8 L1674.4,149.7 L1677.4,149.6 L1680.4,149.5 L1683.4,149.4 L1686.4,149.3 L1689.4,149.2 L1692.4,149.2 L1695.4,149.1 L1698.4,149.0 L1701.4,148.9 L1704.4,148.8 L1707.4,148.7 L1710.4,148.7 L1713.4,148.6 L1716.4,148.5 L1719.4,148.4 L1722.4,148.4 L1725.4,148.3 L1728.4,148.2 L1731.4,148.2 L1734.4,148.1 L1737.4,148.0 L1740.4,148.0 L1743.4,147.9 L1746.4,147.8 L1749.4,147.8 L1752.4,147.7 L1755.4,147.7 L1758.4,147.6 L1761.4,147.5 L1764.4,147.5 L1767.4,147.4 L1770.4,147.4 L1773.4,147.3 L1776.4,147.3 L1779.4,147.2 L1782.4,147.2 L1785.4,147.1 L1788.4,147.1 L1791.4,147.0 L1794.4,147.0 L1797.4,146.9 L1800.4,146.9 L1803.4,146.8 L1806.4,146.8 L1809.4,146.7 L1812.4,146.7 L1815.4,146.6 L1818.4,146.6 L1821.4,146.5 L1824.4,146.5 L1827.4,146.4 L1830.4,146.4 L1833.4,146.4 L1836.4,146.3 L1839.4,146.3 L1842.4,146.2 L1845.4,146.2 L1848.4,146.1 L1851.4,146.1 L1854.4,146.1 L1857.4,146.0 L1860.4,146.0 L1863.4,145.9 L1866.4,145.9 L1869.4,145.8 L1872.4,145.8 L1875.4,145.8 L1878.4,145.7 L1881.4,145.7 L1884.4,145.6 L1887.4,145.6 L1890.4,145.5 L1893.4,145.5 L1896.4,145.4 L1899.4,145.4 L1902.4,145.4 L1905.4,145.3 L1908.4,145.3 L1911.4,145.2 L1914.4,145.2 L1917.4,145.1 L1920.4,145.1 L1923.4,145.0 L1926.4,145.0 L1929.4,144.9 L1932.4,144.9 L1935.4,144.8 L1938.4,144.8 L1941.4,144.7 L1944.4,144.7 L1947.4,144.6 L1950.4,144.6 L1953.4,144.5 L1956.4,144.5 L1959.3,144.4 L1962.3,144.4 L1965.3,144.3 L1968.3,144.2 L1971.3,144.2 L1974.3,144.1 L1977.3,144.1 L1980.3,144.0 L1983.3,143.9 L1986.3,143.9 L1989.3,143.8 L1992.3,143.7 L1995.3,143.7 L1998.3,143.6 L2001.3,143.5 L2003.0,143.5" fill="none" stroke="#0000ff" stroke-width="12" stroke-linejoin="round" stroke-linecap="butt" stroke-dasharray="12 32.6 56 32.6" stroke-dashoffset="0"/>
<path d="M616.0,1320.0 L616.3,1317.0 L616.5,1314.0 L616.8,1311.0 L617.1,1308.1 L617.4,1305.1 L617.6,1302.1 L617.9,1299.1 L618.2,1296.1 L618.4,1293.1 L618.7,1290.1 L619.0,1287.1 L619.2,1284.1 L619.5,1281.2 L619.7,1278.2 L620.0,1275.2 L620.3,1272.2 L620.5,1269.2 L620.8,1266.2 L621.1,1263.2 L621.3,1260.2 L621.6,1257.2 L621.8,1254.3 L622.1,1251.3 L622.4,1248.3 L622.6,1245.3 L622.9,1242.3 L623.1,1239.3 L623.4,1236.3 L623.7,1233.3 L623.9,1230.4 L624.2,1227.4 L624.4,1224.4 L624.7,1221.4 L624.9,1218.4 L625.2,1215.4 L625.5,1212.4 L625.7,1209.4 L626.0,1206.4 L626.2,1203.5 L626.5,1200.5 L626.8,1197.5 L627.0,1194.5 L627.3,1191.5 L627.5,1188.5 L627.8,1185.5 L628.0,1182.5 L628.3,1179.5 L628.6,1176.6 L628.8,1173.6 L629.1,1170.6 L629.4,1167.6 L629.6,1164.6 L629.9,1161.6 L630.1,1158.6 L630.4,1155.6 L630.7,1152.6 L630.9,1149.7 L631.2,1146.7 L631.5,1143.7 L631.7,1140.7 L632.0,1137.7 L632.3,1134.7 L632.5,1131.7 L632.8,1128.7 L633.1,1125.8 L633.3,1122.8 L633.6,1119.8 L633.9,1116.8 L634.2,1113.8 L634.4,1110.8 L634.7,1107.8 L635.0,1104.8 L635.3,1101.9 L635.5,1098.9 L635.8,1095.9 L636.1,1092.9 L636.4,1089.9 L636.7,1086.9 L637.0,1083.9 L637.2,1080.9 L637.5,1078.0 L637.8,1075.0 L638.1,1072.0 L638.4,1069.0 L638.7,1066.0 L639.0,1063.0 L639.3,1060.0 L639.6,1057.1 L639.9,1054.1 L640.2,1051.1 L640.5,1048.1 L640.8,1045.1 L641.1,1042.1 L641.4,1039.1 L641.7,1036.2 L642.0,1033.2 L642.3,1030.2 L642.6,1027.2 L642.9,1024.2 L643.2,1021.2 L643.5,1018.3 L643.9,1015.3 L644.2,1012.3 L644.5,1009.3 L644.8,1006.3 L645.2,1003.3 L645.5,1000.4 L645.8,997.4 L646.1,994.4 L646.5,991.4 L646.8,988.4 L647.1,985.5 L647.5,982.5 L647.8,979.5 L648.2,976.5 L648.5,973.5 L648.9,970.6 L649.2,967.6 L649.6,964.6 L649.9,961.6 L650.3,958.6 L650.6,955.7 L651.0,952.7 L651.4,949.7 L651.7,946.7 L652.1,943.7 L652.5,940.8 L652.8,937.8 L653.2,934.8 L653.6,931.8 L654.0,928.9 L654.3,925.9 L654.7,922.9 L655.1,919.9 L655.5,917.0 L655.9,914.0 L656.3,911.0 L656.7,908.0 L657.1,905.1 L657.5,902.1 L657.9,899.1 L658.3,896.2 L658.7,893.2 L659.2,890.2 L659.6,887.2 L660.0,884.3 L660.4,881.3 L660.8,878.3 L661.3,875.4 L661.7,872.4 L662.1,869.4 L662.6,866.5 L663.0,863.5 L663.5,860.5 L663.9,857.6 L664.4,854.6 L664.8,851.6 L665.3,848.7 L665.8,845.7 L666.2,842.7 L666.7,839.8 L667.2,836.8 L667.6,833.8 L668.1,830.9 L668.6,827.9 L669.1,825.0 L669.6,822.0 L670.1,819.0 L670.6,816.1 L671.1,813.1 L671.6,810.2 L672.1,807.2 L672.6,804.3 L673.1,801.3 L673.6,798.3 L674.1,795.4 L674.7,792.4 L675.2,789.5 L675.7,786.5 L676.3,783.6 L676.8,780.6 L677.3,777.7 L677.9,774.7 L678.4,771.8 L679.0,768.8 L679.6,765.9 L680.1,762.9 L680.7,760.0 L681.3,757.1 L681.8,754.1 L682.4,751.2 L683.0,748.2 L683.6,745.3 L684.2,742.3 L684.8,739.4 L685.4,736.5 L686.0,733.5 L686.6,730.6 L687.2,727.6 L687.8,724.7 L688.4,721.8 L689.1,718.8 L689.7,715.9 L690.3,713.0 L691.0,710.0 L691.6,707.1 L692.3,704.2 L692.9,701.3 L693.6,698.3 L694.2,695.4 L694.9,692.5 L695.6,689.6 L696.2,686.6 L696.9,683.7 L697.6,680.8 L698.3,677.9 L699.0,675.0 L699.7,672.0 L700.4,669.1 L701.1,666.2 L701.8,663.3 L702.5,660.4 L703.2,657.5 L704.0,654.6 L704.7,651.6 L705.4,648.7 L706.2,645.8 L706.9,642.9 L707.7,640.0 L708.4,637.1 L709.2,634.2 L710.0,631.3 L710.7,628.4 L711.5,625.5 L712.3,622.6 L713.1,619.7 L713.9,616.8 L714.7,613.9 L715.5,611.0 L716.3,608.2 L717.1,605.3 L717.9,602.4 L718.8,599.5 L719.6,596.6 L720.4,593.7 L721.3,590.9 L722.2,588.0 L723.0,585.1 L723.9,582.3 L724.8,579.4 L725.7,576.5 L726.6,573.7 L727.5,570.8 L728.4,568.0 L729.4,565.1 L730.3,562.3 L731.2,559.4 L732.2,556.6 L733.2,553.7 L734.2,550.9 L735.2,548.1 L736.2,545.2 L737.2,542.4 L738.2,539.6 L739.2,536.8 L740.3,534.0 L741.4,531.2 L742.4,528.4 L743.5,525.6 L744.6,522.8 L745.7,520.0 L746.9,517.2 L748.0,514.4 L749.2,511.7 L750.3,508.9 L751.5,506.1 L752.7,503.4 L753.9,500.6 L755.1,497.9 L756.4,495.2 L757.6,492.5 L758.9,489.7 L760.2,487.0 L761.5,484.3 L762.8,481.6 L764.1,478.9 L765.5,476.2 L766.8,473.6 L768.2,470.9 L769.6,468.3 L771.0,465.6 L772.4,463.0 L773.9,460.3 L775.3,457.7 L776.8,455.1 L778.3,452.5 L779.8,449.9 L781.3,447.3 L782.9,444.8 L784.5,442.2 L786.0,439.7 L787.6,437.1 L789.3,434.6 L790.9,432.1 L792.6,429.6 L794.2,427.1 L795.9,424.6 L797.6,422.1 L799.4,419.7 L801.1,417.3 L802.9,414.8 L804.7,412.4 L806.5,410.0 L808.3,407.6 L810.1,405.3 L812.0,402.9 L813.8,400.6 L815.7,398.2 L817.6,395.9 L819.6,393.6 L821.5,391.3 L823.5,389.1 L825.5,386.8 L827.5,384.6 L829.5,382.4 L831.5,380.2 L833.6,378.0 L835.7,375.8 L837.8,373.7 L839.9,371.6 L842.0,369.5 L844.2,367.4 L846.3,365.3 L848.5,363.2 L850.7,361.2 L853.0,359.2 L855.2,357.2 L857.5,355.2 L859.8,353.3 L862.1,351.4 L864.4,349.5 L866.7,347.6 L869.1,345.7 L871.5,343.9 L873.9,342.1 L876.3,340.3 L878.7,338.5 L881.1,336.8 L883.6,335.1 L886.1,333.4 L888.6,331.7 L891.1,330.1 L893.6,328.4 L896.1,326.8 L898.7,325.3 L901.2,323.7 L903.8,322.2 L906.4,320.6 L909.0,319.1 L911.6,317.6 L914.2,316.2 L916.8,314.7 L919.5,313.3 L922.1,311.9 L924.8,310.5 L927.5,309.2 L930.2,307.8 L932.8,306.5 L935.5,305.2 L938.3,303.9 L941.0,302.6 L943.7,301.4 L946.4,300.1 L949.2,298.9 L951.9,297.7 L954.7,296.5 L957.4,295.3 L960.2,294.2 L963.0,293.0 L965.7,291.9 L968.5,290.8 L971.3,289.7 L974.1,288.6 L976.9,287.5 L979.7,286.4 L982.5,285.4 L985.3,284.3 L988.2,283.3 L991.0,282.3 L993.8,281.3 L996.6,280.3 L999.5,279.3 L1002.3,278.3 L1005.1,277.4 L1008.0,276.4 L1010.8,275.5 L1013.7,274.5 L1016.5,273.6 L1019.4,272.7 L1022.3,271.8 L1025.1,270.9 L1028.0,270.0 L1030.9,269.1 L1033.7,268.2 L1036.6,267.4 L1039.5,266.5 L1042.3,265.6 L1045.2,264.8 L1048.1,263.9 L1051.0,263.1 L1053.9,262.3 L1056.7,261.4 L1059.6,260.6 L1062.5,259.8 L1065.4,259.0 L1068.3,258.1 L1071.2,257.3 L1074.0,256.5 L1076.9,255.7 L1079.8,254.9 L1082.7,254.1 L1085.6,253.3 L1088.5,252.5 L1091.4,251.7 L1094.3,250.9 L1097.2,250.1 L1100.1,249.3 L1102.9,248.5 L1105.8,247.7 L1108.7,246.8 L1111.6,246.0 L1114.5,245.2 L1117.4,244.4 L1120.3,243.6 L1123.2,242.8 L1126.0,242.0 L1128.9,241.1 L1131.8,240.3 L1134.7,239.5 L1137.6,238.7 L1140.5,237.8 L1143.3,237.0 L1146.2,236.2 L1149.1,235.3 L1152.0,234.5 L1154.9,233.6 L1157.8,232.8 L1160.6,232.0 L1163.5,231.1 L1166.4,230.3 L1169.3,229.5 L1172.2,228.6 L1175.0,227.8 L1177.9,227.0 L1180.8,226.1 L1183.7,225.3 L1186.6,224.5 L1189.5,223.6 L1192.3,222.8 L1195.2,222.0 L1198.1,221.2 L1201.0,220.4 L1203.9,219.5 L1206.8,218.7 L1209.7,217.9 L1212.6,217.1 L1215.4,216.3 L1218.3,215.5 L1221.2,214.7 L1224.1,213.9 L1227.0,213.2 L1229.9,212.4 L1232.8,211.6 L1235.7,210.8 L1238.6,210.1 L1241.5,209.3 L1244.4,208.6 L1247.3,207.8 L1250.2,207.1 L1253.2,206.4 L1256.1,205.6 L1259.0,204.9 L1261.9,204.2 L1264.8,203.5 L1267.7,202.8 L1270.6,202.1 L1273.6,201.4 L1276.5,200.7 L1279.4,200.0 L1282.3,199.4 L1285.3,198.7 L1288.2,198.0 L1291.1,197.4 L1294.0,196.7 L1297.0,196.1 L1299.9,195.5 L1302.8,194.8 L1305.8,194.2 L1308.7,193.6 L1311.6,192.9 L1314.6,192.3 L1317.5,191.7 L1320.4,191.1 L1323.4,190.5 L1326.3,189.9 L1329.3,189.4 L1332.2,188.8 L1335.2,188.2 L1338.1,187.6 L1341.0,187.1 L1344.0,186.5 L1346.9,185.9 L1349.9,185.4 L1352.8,184.9 L1355.8,184.3 L1358.7,183.8 L1361.7,183.3 L1364.7,182.7 L1367.6,182.2 L1370.6,181.7 L1373.5,181.2 L1376.5,180.7 L1379.4,180.2 L1382.4,179.7 L1385.4,179.2 L1388.3,178.7 L1391.3,178.2 L1394.2,177.8 L1397.2,177.3 L1400.2,176.8 L1403.1,176.4 L1406.1,175.9 L1409.1,175.5 L1412.0,175.0 L1415.0,174.6 L1418.0,174.1 L1420.9,173.7 L1423.9,173.3 L1426.9,172.8 L1429.8,172.4 L1432.8,172.0 L1435.8,171.6 L1438.8,171.2 L1441.7,170.8 L1444.7,170.4 L1447.7,170.0 L1450.6,169.6 L1453.6,169.2 L1456.6,168.9 L1459.6,168.5 L1462.6,168.1 L1465.5,167.7 L1468.5,167.4 L1471.5,167.0 L1474.5,166.7 L1477.4,166.3 L1480.4,166.0 L1483.4,165.6 L1486.4,165.3 L1489.4,164.9 L1492.3,164.6 L1495.3,164.3 L1498.3,164.0 L1501.3,163.6 L1504.3,163.3 L1507.3,163.0 L1510.2,162.7 L1513.2,162.4 L1516.2,162.1 L1519.2,161.8 L1522.2,161.5 L1525.2,161.2 L1528.2,160.9 L1531.1,160.6 L1534.1,160.4 L1537.1,160.1 L1540.1,159.8 L1543.1,159.6 L1546.1,159.3 L1549.1,159.0 L1552.1,158.8 L1555.1,158.5 L1558.0,158.3 L1561.0,158.0 L1564.0,157.8 L1567.0,157.5 L1570.0,157.3 L1573.0,157.1 L1576.0,156.8 L1579.0,156.6 L1582.0,156.4 L1585.0,156.1 L1588.0,155.9 L1590.9,155.7 L1593.9,155.5 L1596.9,155.3 L1599.9,155.1 L1602.9,154.9 L1605.9,154.7 L1608.9,154.5 L1611.9,154.3 L1614.9,154.1 L1617.9,153.9 L1620.9,153.7 L1623.9,153.5 L1626.9,153.3 L1629.9,153.2 L1632.9,153.0 L1635.8,152.8 L1638.8,152.6 L1641.8,152.5 L1644.8,152.3 L1647.8,152.1 L1650.8,152.0 L1653.8,151.8 L1656.8,151.7 L1659.8,151.5 L1662.8,151.4 L1665.8,151.2 L1668.8,151.1 L1671.8,150.9 L1674.8,150.8 L1677.8,150.7 L1680.8,150.5 L1683.8,150.4 L1686.8,150.3 L1689.8,150.1 L1692.8,150.0 L1695.8,149.9 L1698.8,149.8 L1701.8,149.6 L1704.8,149.5 L1707.8,149.4 L1710.8,149.3 L1713.8,149.2 L1716.8,149.1 L1719.8,149.0 L1722.8,148.8 L1725.8,148.7 L1728.8,148.6 L1731.8,148.5 L1734.7,148.4 L1737.7,148.3 L1740.7,148.3 L1743.7,148.2 L1746.7,148.1 L1749.7,148.0 L1752.7,147.9 L1755.7,147.8 L1758.7,147.7 L1761.7,147.6 L1764.7,147.6 L1767.7,147.5 L1770.7,147.4 L1773.7,147.3 L1776.7,147.2 L1779.7,147.2 L1782.7,147.1 L1785.7,147.0 L1788.7,147.0 L1791.7,146.9 L1794.7,146.8 L1797.7,146.8 L1800.7,146.7 L1803.7,146.6 L1806.7,146.6 L1809.7,146.5 L1812.7,146.4 L1815.7,146.4 L1818.7,146.3 L1821.7,146.3 L1824.7,146.2 L1827.7,146.2 L1830.7,146.1 L1833.7,146.1 L1836.7,146.0 L1839.7,146.0 L1842.7,145.9 L1845.7,145.9 L1848.7,145.8 L1851.7,145.8 L1854.7,145.7 L1857.7,145.7 L1860.7,145.6 L1863.7,145.6 L1866.7,145.6 L1869.7,145.5 L1872.7,145.5 L1875.7,145.4 L1878.7,145.4 L1881.7,145.4 L1884.7,145.3 L1887.7,145.3 L1890.7,145.2 L1893.7,145.2 L1896.7,145.2 L1899.7,145.1 L1902.7,145.1 L1905.7,145.1 L1908.7,145.0 L1911.7,145.0 L1914.7,145.0 L1917.7,144.9 L1920.7,144.9 L1923.7,144.9 L1926.7,144.8 L1929.7,144.8 L1932.7,144.8 L1935.7,144.7 L1938.7,144.7 L1941.7,144.7 L1944.7,144.6 L1947.7,144.6 L1950.7,144.6 L1953.7,144.5 L1956.7,144.5 L1959.7,144.5 L1962.7,144.4 L1965.7,144.4 L1968.7,144.4 L1971.7,144.4 L1974.7,144.3 L1977.7,144.3 L1980.7,144.3 L1983.7,144.2 L1986.7,144.2 L1989.7,144.2 L1992.7,144.1 L1995.7,144.1 L1998.7,144.1 L2001.7,144.0 L2003.0,144.0" fill="none" stroke="#000" stroke-width="15" stroke-linejoin="round" stroke-linecap="butt"/>
</g>
<g clip-path="url(#cb)">
<path d="M648.5,2619.5 L648.7,2616.5 L648.8,2613.5 L648.9,2610.5 L649.1,2607.5 L649.2,2604.5 L649.4,2601.5 L649.5,2598.5 L649.7,2595.5 L649.8,2592.5 L650.0,2589.5 L650.2,2586.6 L650.3,2583.6 L650.5,2580.6 L650.7,2577.6 L650.8,2574.6 L651.0,2571.6 L651.2,2568.6 L651.4,2565.6 L651.6,2562.6 L651.7,2559.6 L651.9,2556.6 L652.1,2553.6 L652.3,2550.6 L652.5,2547.6 L652.7,2544.6 L652.9,2541.6 L653.1,2538.6 L653.3,2535.7 L653.5,2532.7 L653.7,2529.7 L653.9,2526.7 L654.2,2523.7 L654.4,2520.7 L654.6,2517.7 L654.8,2514.7 L655.0,2511.7 L655.3,2508.7 L655.5,2505.7 L655.7,2502.7 L656.0,2499.7 L656.2,2496.8 L656.4,2493.8 L656.7,2490.8 L656.9,2487.8 L657.1,2484.8 L657.4,2481.8 L657.6,2478.8 L657.9,2475.8 L658.1,2472.8 L658.4,2469.8 L658.6,2466.9 L658.9,2463.9 L659.2,2460.9 L659.4,2457.9 L659.7,2454.9 L659.9,2451.9 L660.2,2448.9 L660.5,2445.9 L660.8,2443.0 L661.0,2440.0 L661.3,2437.0 L661.6,2434.0 L661.9,2431.0 L662.1,2428.0 L662.4,2425.0 L662.7,2422.0 L663.0,2419.1 L663.3,2416.1 L663.6,2413.1 L663.8,2410.1 L664.1,2407.1 L664.4,2404.1 L664.7,2401.1 L665.0,2398.2 L665.3,2395.2 L665.6,2392.2 L665.9,2389.2 L666.2,2386.2 L666.5,2383.2 L666.8,2380.2 L667.1,2377.3 L667.5,2374.3 L667.8,2371.3 L668.1,2368.3 L668.4,2365.3 L668.7,2362.3 L669.0,2359.4 L669.3,2356.4 L669.7,2353.4 L670.0,2350.4 L670.3,2347.4 L670.6,2344.4 L670.9,2341.5 L671.3,2338.5 L671.6,2335.5 L671.9,2332.5 L672.2,2329.5 L672.6,2326.6 L672.9,2323.6 L673.2,2320.6 L673.6,2317.6 L673.9,2314.6 L674.2,2311.6 L674.6,2308.7 L674.9,2305.7 L675.2,2302.7 L675.6,2299.7 L675.9,2296.7 L676.3,2293.8 L676.6,2290.8 L677.0,2287.8 L677.3,2284.8 L677.6,2281.8 L678.0,2278.9 L678.3,2275.9 L678.7,2272.9 L679.0,2269.9 L679.4,2266.9 L679.7,2264.0 L680.1,2261.0 L680.4,2258.0 L680.8,2255.0 L681.1,2252.0 L681.5,2249.1 L681.8,2246.1 L682.2,2243.1 L682.5,2240.1 L682.9,2237.1 L683.3,2234.2 L683.6,2231.2 L684.0,2228.2 L684.3,2225.2 L684.7,2222.3 L685.0,2219.3 L685.4,2216.3 L685.8,2213.3 L686.1,2210.3 L686.5,2207.4 L686.8,2204.4 L687.2,2201.4 L687.6,2198.4 L687.9,2195.4 L688.3,2192.5 L688.7,2189.5 L689.0,2186.5 L689.4,2183.5 L689.7,2180.6 L690.1,2177.6 L690.5,2174.6 L690.8,2171.6 L691.2,2168.6 L691.6,2165.7 L691.9,2162.7 L692.3,2159.7 L692.7,2156.7 L693.0,2153.8 L693.4,2150.8 L693.8,2147.8 L694.1,2144.8 L694.5,2141.8 L694.8,2138.9 L695.2,2135.9 L695.6,2132.9 L695.9,2129.9 L696.3,2127.0 L696.7,2124.0 L697.0,2121.0 L697.4,2118.0 L697.8,2115.0 L698.1,2112.1 L698.5,2109.1 L698.9,2106.1 L699.2,2103.1 L699.6,2100.2 L700.0,2097.2 L700.3,2094.2 L700.7,2091.2 L701.1,2088.3 L701.4,2085.3 L701.8,2082.3 L702.2,2079.3 L702.5,2076.3 L702.9,2073.4 L703.3,2070.4 L703.7,2067.4 L704.0,2064.4 L704.4,2061.5 L704.8,2058.5 L705.2,2055.5 L705.6,2052.5 L706.0,2049.6 L706.4,2046.6 L706.7,2043.6 L707.1,2040.6 L707.5,2037.7 L707.9,2034.7 L708.3,2031.7 L708.7,2028.7 L709.1,2025.8 L709.6,2022.8 L710.0,2019.8 L710.4,2016.9 L710.8,2013.9 L711.2,2010.9 L711.7,2007.9 L712.1,2005.0 L712.5,2002.0 L713.0,1999.0 L713.4,1996.1 L713.8,1993.1 L714.3,1990.1 L714.7,1987.2 L715.2,1984.2 L715.6,1981.2 L716.1,1978.3 L716.6,1975.3 L717.1,1972.4 L717.5,1969.4 L718.0,1966.4 L718.5,1963.5 L719.0,1960.5 L719.5,1957.6 L720.0,1954.6 L720.5,1951.6 L721.0,1948.7 L721.5,1945.7 L722.0,1942.8 L722.6,1939.8 L723.1,1936.9 L723.6,1933.9 L724.2,1931.0 L724.7,1928.0 L725.3,1925.1 L725.9,1922.1 L726.4,1919.2 L727.0,1916.2 L727.6,1913.3 L728.2,1910.3 L728.8,1907.4 L729.4,1904.5 L730.0,1901.5 L730.6,1898.6 L731.2,1895.7 L731.8,1892.7 L732.5,1889.8 L733.1,1886.9 L733.8,1883.9 L734.4,1881.0 L735.1,1878.1 L735.7,1875.2 L736.4,1872.2 L737.1,1869.3 L737.8,1866.4 L738.5,1863.5 L739.2,1860.6 L739.9,1857.7 L740.7,1854.7 L741.4,1851.8 L742.2,1848.9 L742.9,1846.0 L743.7,1843.1 L744.4,1840.2 L745.2,1837.3 L746.0,1834.4 L746.8,1831.5 L747.6,1828.7 L748.4,1825.8 L749.3,1822.9 L750.1,1820.0 L750.9,1817.1 L751.8,1814.2 L752.7,1811.4 L753.5,1808.5 L754.4,1805.6 L755.3,1802.8 L756.2,1799.9 L757.1,1797.1 L758.0,1794.2 L759.0,1791.3 L759.9,1788.5 L760.9,1785.7 L761.8,1782.8 L762.8,1780.0 L763.8,1777.1 L764.8,1774.3 L765.8,1771.5 L766.8,1768.7 L767.9,1765.9 L768.9,1763.0 L770.0,1760.2 L771.0,1757.4 L772.1,1754.6 L773.2,1751.8 L774.3,1749.0 L775.4,1746.3 L776.5,1743.5 L777.7,1740.7 L778.8,1737.9 L780.0,1735.2 L781.1,1732.4 L782.3,1729.6 L783.5,1726.9 L784.7,1724.1 L785.9,1721.4 L787.2,1718.7 L788.4,1715.9 L789.7,1713.2 L790.9,1710.5 L792.2,1707.8 L793.5,1705.1 L794.8,1702.4 L796.1,1699.7 L797.5,1697.0 L798.8,1694.3 L800.2,1691.6 L801.5,1689.0 L802.9,1686.3 L804.3,1683.6 L805.7,1681.0 L807.1,1678.3 L808.6,1675.7 L810.0,1673.1 L811.5,1670.5 L813.0,1667.9 L814.5,1665.3 L816.0,1662.7 L817.5,1660.1 L819.0,1657.5 L820.6,1654.9 L822.2,1652.4 L823.7,1649.8 L825.3,1647.3 L826.9,1644.8 L828.6,1642.2 L830.2,1639.7 L831.9,1637.2 L833.5,1634.7 L835.2,1632.3 L836.9,1629.8 L838.7,1627.3 L840.4,1624.9 L842.2,1622.5 L843.9,1620.0 L845.7,1617.6 L847.5,1615.2 L849.4,1612.9 L851.2,1610.5 L853.1,1608.1 L855.0,1605.8 L856.9,1603.5 L858.8,1601.2 L860.7,1598.9 L862.7,1596.6 L864.6,1594.3 L866.6,1592.1 L868.6,1589.9 L870.7,1587.7 L872.7,1585.5 L874.8,1583.3 L876.8,1581.1 L878.9,1579.0 L881.1,1576.9 L883.2,1574.8 L885.3,1572.7 L887.5,1570.6 L889.7,1568.5 L891.9,1566.5 L894.1,1564.5 L896.4,1562.5 L898.6,1560.5 L900.9,1558.6 L903.2,1556.6 L905.5,1554.7 L907.8,1552.8 L910.1,1550.9 L912.5,1549.0 L914.9,1547.2 L917.2,1545.4 L919.6,1543.6 L922.0,1541.8 L924.5,1540.0 L926.9,1538.3 L929.4,1536.5 L931.8,1534.8 L934.3,1533.2 L936.8,1531.5 L939.3,1529.8 L941.8,1528.2 L944.4,1526.6 L946.9,1525.0 L949.5,1523.5 L952.1,1521.9 L954.7,1520.4 L957.3,1518.9 L959.9,1517.5 L962.5,1516.0 L965.1,1514.6 L967.8,1513.2 L970.4,1511.8 L973.1,1510.4 L975.8,1509.1 L978.5,1507.7 L981.2,1506.4 L983.9,1505.2 L986.6,1503.9 L989.4,1502.7 L992.1,1501.5 L994.9,1500.3 L997.6,1499.1 L1000.4,1498.0 L1003.2,1496.9 L1006.0,1495.7 L1008.8,1494.7 L1011.6,1493.6 L1014.4,1492.6 L1017.2,1491.5 L1020.0,1490.5 L1022.9,1489.6 L1025.7,1488.6 L1028.6,1487.6 L1031.4,1486.7 L1034.3,1485.8 L1037.1,1484.9 L1040.0,1484.0 L1042.9,1483.2 L1045.8,1482.3 L1048.7,1481.5 L1051.5,1480.7 L1054.4,1479.9 L1057.3,1479.2 L1060.2,1478.4 L1063.1,1477.7 L1066.1,1476.9 L1069.0,1476.2 L1071.9,1475.5 L1074.8,1474.8 L1077.7,1474.2 L1080.7,1473.5 L1083.6,1472.9 L1086.5,1472.3 L1089.5,1471.6 L1092.4,1471.0 L1095.3,1470.5 L1098.3,1469.9 L1101.2,1469.3 L1104.2,1468.8 L1107.1,1468.2 L1110.1,1467.7 L1113.0,1467.2 L1116.0,1466.7 L1119.0,1466.2 L1121.9,1465.7 L1124.9,1465.2 L1127.8,1464.7 L1130.8,1464.3 L1133.8,1463.8 L1136.7,1463.4 L1139.7,1462.9 L1142.7,1462.5 L1145.6,1462.1 L1148.6,1461.7 L1151.6,1461.3 L1154.6,1460.9 L1157.5,1460.5 L1160.5,1460.1 L1163.5,1459.7 L1166.5,1459.4 L1169.4,1459.0 L1172.4,1458.6 L1175.4,1458.3 L1178.4,1457.9 L1181.4,1457.6 L1184.3,1457.3 L1187.3,1456.9 L1190.3,1456.6 L1193.3,1456.3 L1196.3,1455.9 L1199.3,1455.6 L1202.2,1455.3 L1205.2,1455.0 L1208.2,1454.7 L1211.2,1454.4 L1214.2,1454.1 L1217.2,1453.8 L1220.1,1453.5 L1223.1,1453.2 L1226.1,1452.9 L1229.1,1452.6 L1232.1,1452.4 L1235.1,1452.1 L1238.1,1451.8 L1241.1,1451.6 L1244.0,1451.3 L1247.0,1451.0 L1250.0,1450.8 L1253.0,1450.5 L1256.0,1450.3 L1259.0,1450.0 L1262.0,1449.8 L1265.0,1449.6 L1268.0,1449.3 L1271.0,1449.1 L1273.9,1448.9 L1276.9,1448.6 L1279.9,1448.4 L1282.9,1448.2 L1285.9,1448.0 L1288.9,1447.8 L1291.9,1447.6 L1294.9,1447.4 L1297.9,1447.2 L1300.9,1447.0 L1303.9,1446.8 L1306.9,1446.6 L1309.9,1446.4 L1312.9,1446.2 L1315.9,1446.0 L1318.8,1445.8 L1321.8,1445.7 L1324.8,1445.5 L1327.8,1445.3 L1330.8,1445.1 L1333.8,1445.0 L1336.8,1444.8 L1339.8,1444.7 L1342.8,1444.5 L1345.8,1444.3 L1348.8,1444.2 L1351.8,1444.1 L1354.8,1443.9 L1357.8,1443.8 L1360.8,1443.6 L1363.8,1443.5 L1366.8,1443.4 L1369.8,1443.2 L1372.8,1443.1 L1375.8,1443.0 L1378.8,1442.8 L1381.8,1442.7 L1384.8,1442.6 L1387.8,1442.5 L1390.8,1442.4 L1393.8,1442.3 L1396.8,1442.2 L1399.8,1442.1 L1402.8,1442.0 L1405.8,1441.9 L1408.8,1441.8 L1411.8,1441.7 L1414.7,1441.6 L1417.7,1441.5 L1420.7,1441.4 L1423.7,1441.3 L1426.7,1441.2 L1429.7,1441.1 L1432.7,1441.1 L1435.7,1441.0 L1438.7,1440.9 L1441.7,1440.8 L1444.7,1440.8 L1447.7,1440.7 L1450.7,1440.6 L1453.7,1440.6 L1456.7,1440.5 L1459.7,1440.4 L1462.7,1440.4 L1465.7,1440.3 L1468.7,1440.3 L1471.7,1440.2 L1474.7,1440.2 L1477.7,1440.1 L1480.7,1440.1 L1483.7,1440.0 L1486.7,1440.0 L1489.7,1439.9 L1492.7,1439.9 L1495.7,1439.8 L1498.7,1439.8 L1501.7,1439.8 L1504.7,1439.7 L1507.7,1439.7 L1510.7,1439.7 L1513.7,1439.6 L1516.7,1439.6 L1519.7,1439.6 L1522.7,1439.6 L1525.7,1439.5 L1528.7,1439.5 L1531.7,1439.5 L1534.7,1439.5 L1537.7,1439.5 L1540.7,1439.5 L1543.7,1439.4 L1546.7,1439.4 L1549.7,1439.4 L1552.7,1439.4 L1555.7,1439.4 L1558.7,1439.4 L1561.7,1439.4 L1564.7,1439.4 L1567.7,1439.4 L1570.7,1439.4 L1573.7,1439.4 L1576.7,1439.4 L1579.7,1439.3 L1582.7,1439.3 L1585.7,1439.4 L1588.7,1439.4 L1591.7,1439.4 L1594.7,1439.4 L1597.7,1439.4 L1600.7,1439.4 L1603.7,1439.4 L1606.7,1439.4 L1609.7,1439.4 L1612.7,1439.4 L1615.7,1439.4 L1618.7,1439.4 L1621.7,1439.4 L1624.7,1439.4 L1627.7,1439.5 L1630.7,1439.5 L1633.7,1439.5 L1636.7,1439.5 L1639.7,1439.5 L1642.7,1439.5 L1645.7,1439.5 L1648.7,1439.6 L1651.7,1439.6 L1654.7,1439.6 L1657.7,1439.6 L1660.7,1439.6 L1663.7,1439.6 L1666.7,1439.7 L1669.7,1439.7 L1672.7,1439.7 L1675.7,1439.7 L1678.7,1439.7 L1681.7,1439.8 L1684.7,1439.8 L1687.7,1439.8 L1690.7,1439.8 L1693.7,1439.8 L1696.7,1439.9 L1699.7,1439.9 L1702.7,1439.9 L1705.7,1439.9 L1708.7,1439.9 L1711.7,1440.0 L1714.7,1440.0 L1717.7,1440.0 L1720.7,1440.0 L1723.7,1440.0 L1726.7,1440.1 L1729.7,1440.1 L1732.7,1440.1 L1735.7,1440.1 L1738.7,1440.1 L1741.7,1440.2 L1744.7,1440.2 L1747.7,1440.2 L1750.7,1440.2 L1753.7,1440.2 L1756.7,1440.2 L1759.7,1440.3 L1762.7,1440.3 L1765.7,1440.3 L1768.7,1440.3 L1771.7,1440.3 L1774.7,1440.3 L1777.7,1440.3 L1780.7,1440.4 L1783.7,1440.4 L1786.7,1440.4 L1789.7,1440.4 L1792.7,1440.4 L1795.7,1440.4 L1798.7,1440.4 L1801.7,1440.4 L1804.7,1440.4 L1807.7,1440.4 L1810.7,1440.4 L1813.7,1440.4 L1816.7,1440.5 L1819.7,1440.5 L1822.7,1440.5 L1825.7,1440.5 L1828.7,1440.5 L1831.7,1440.5 L1834.7,1440.5 L1837.7,1440.5 L1840.7,1440.4 L1843.7,1440.4 L1846.7,1440.4 L1849.7,1440.4 L1852.7,1440.4 L1855.7,1440.4 L1858.7,1440.4 L1861.7,1440.4 L1864.7,1440.4 L1867.7,1440.4 L1870.7,1440.3 L1873.7,1440.3 L1876.7,1440.3 L1879.7,1440.3 L1882.7,1440.3 L1885.7,1440.2 L1888.7,1440.2 L1891.7,1440.2 L1894.7,1440.2 L1897.7,1440.1 L1900.7,1440.1 L1903.7,1440.1 L1906.7,1440.0 L1909.7,1440.0 L1912.7,1440.0 L1915.7,1439.9 L1918.7,1439.9 L1921.7,1439.8 L1924.7,1439.8 L1927.7,1439.8 L1930.7,1439.7 L1933.7,1439.7 L1936.7,1439.6 L1939.7,1439.6 L1942.7,1439.5 L1945.7,1439.4 L1948.7,1439.4 L1951.7,1439.3 L1954.7,1439.3 L1957.7,1439.2 L1960.7,1439.1 L1963.7,1439.1 L1966.7,1439.0 L1969.7,1438.9 L1972.7,1438.9 L1975.7,1438.8 L1978.7,1438.7 L1981.7,1438.6 L1984.7,1438.5 L1987.7,1438.5 L1990.7,1438.4 L1993.7,1438.3 L1996.7,1438.2 L1999.7,1438.1 L2002.7,1438.0 L2003.0,1438.0" fill="none" stroke="#ff0000" stroke-width="12" stroke-linejoin="round" stroke-linecap="butt" stroke-dasharray="57 32" stroke-dashoffset="0"/>
<path d="M452.4,2619.5 L452.4,2616.5 L452.5,2613.5 L452.5,2610.5 L452.6,2607.5 L452.6,2604.5 L452.7,2601.5 L452.7,2598.5 L452.8,2595.5 L452.9,2592.5 L452.9,2589.5 L453.0,2586.5 L453.1,2583.5 L453.2,2580.5 L453.2,2577.5 L453.3,2574.5 L453.4,2571.5 L453.5,2568.5 L453.6,2565.5 L453.7,2562.5 L453.8,2559.5 L453.9,2556.5 L454.0,2553.5 L454.2,2550.5 L454.3,2547.5 L454.4,2544.5 L454.5,2541.5 L454.6,2538.5 L454.8,2535.5 L454.9,2532.5 L455.0,2529.5 L455.2,2526.5 L455.3,2523.6 L455.5,2520.6 L455.6,2517.6 L455.8,2514.6 L455.9,2511.6 L456.1,2508.6 L456.2,2505.6 L456.4,2502.6 L456.5,2499.6 L456.7,2496.6 L456.9,2493.6 L457.0,2490.6 L457.2,2487.6 L457.4,2484.6 L457.5,2481.6 L457.7,2478.6 L457.9,2475.6 L458.1,2472.6 L458.2,2469.6 L458.4,2466.6 L458.6,2463.6 L458.8,2460.6 L459.0,2457.7 L459.2,2454.7 L459.3,2451.7 L459.5,2448.7 L459.7,2445.7 L459.9,2442.7 L460.1,2439.7 L460.3,2436.7 L460.5,2433.7 L460.7,2430.7 L460.9,2427.7 L461.1,2424.7 L461.3,2421.7 L461.5,2418.7 L461.7,2415.7 L461.9,2412.7 L462.1,2409.8 L462.3,2406.8 L462.5,2403.8 L462.7,2400.8 L462.9,2397.8 L463.1,2394.8 L463.3,2391.8 L463.5,2388.8 L463.7,2385.8 L463.9,2382.8 L464.1,2379.8 L464.3,2376.8 L464.5,2373.8 L464.7,2370.8 L464.9,2367.8 L465.1,2364.9 L465.3,2361.9 L465.5,2358.9 L465.7,2355.9 L465.9,2352.9 L466.1,2349.9 L466.3,2346.9 L466.5,2343.9 L466.7,2340.9 L466.9,2337.9 L467.1,2334.9 L467.2,2331.9 L467.4,2328.9 L467.6,2325.9 L467.8,2322.9 L468.0,2320.0 L468.2,2317.0 L468.4,2314.0 L468.6,2311.0 L468.7,2308.0 L468.9,2305.0 L469.1,2302.0 L469.3,2299.0 L469.5,2296.0 L469.6,2293.0 L469.8,2290.0 L470.0,2287.0 L470.2,2284.0 L470.4,2281.0 L470.6,2278.0 L470.8,2275.0 L470.9,2272.0 L471.1,2269.0 L471.3,2266.1 L471.5,2263.1 L471.8,2260.1 L472.0,2257.1 L472.2,2254.1 L472.4,2251.1 L472.6,2248.1 L472.9,2245.1 L473.1,2242.1 L473.4,2239.1 L473.6,2236.1 L473.9,2233.2 L474.1,2230.2 L474.4,2227.2 L474.7,2224.2 L475.0,2221.2 L475.3,2218.2 L475.6,2215.2 L476.0,2212.3 L476.3,2209.3 L476.6,2206.3 L477.0,2203.3 L477.4,2200.3 L477.8,2197.4 L478.2,2194.4 L478.6,2191.4 L479.0,2188.5 L479.4,2185.5 L479.9,2182.5 L480.4,2179.6 L480.8,2176.6 L481.3,2173.6 L481.9,2170.7 L482.4,2167.7 L482.9,2164.8 L483.5,2161.8 L484.1,2158.9 L484.7,2155.9 L485.3,2153.0 L485.9,2150.1 L486.6,2147.2 L487.3,2144.2 L488.0,2141.3 L488.7,2138.4 L489.4,2135.5 L490.2,2132.6 L491.0,2129.7 L491.8,2126.8 L492.6,2123.9 L493.5,2121.0 L494.3,2118.2 L495.2,2115.3 L496.1,2112.5 L497.1,2109.6 L498.0,2106.8 L499.0,2103.9 L500.1,2101.1 L501.1,2098.3 L502.2,2095.5 L503.3,2092.7 L504.4,2089.9 L505.5,2087.1 L506.7,2084.4 L507.9,2081.6 L509.1,2078.9 L510.3,2076.2 L511.6,2073.4 L512.9,2070.7 L514.1,2068.0 L515.4,2065.3 L516.8,2062.6 L518.1,2059.9 L519.4,2057.2 L520.8,2054.5 L522.1,2051.9 L523.5,2049.2 L524.8,2046.5 L526.2,2043.9 L527.6,2041.2 L529.0,2038.5 L530.4,2035.9 L531.7,2033.2 L533.1,2030.5 L534.5,2027.9 L535.9,2025.2 L537.3,2022.5 L538.6,2019.9 L540.0,2017.2 L541.3,2014.5 L542.7,2011.8 L544.0,2009.1 L545.3,2006.5 L546.6,2003.8 L547.9,2001.0 L549.2,1998.3 L550.5,1995.6 L551.7,1992.9 L553.0,1990.2 L554.2,1987.4 L555.4,1984.7 L556.5,1981.9 L557.7,1979.1 L558.8,1976.3 L559.9,1973.6 L561.1,1970.8 L562.1,1968.0 L563.2,1965.2 L564.3,1962.4 L565.3,1959.6 L566.3,1956.7 L567.3,1953.9 L568.3,1951.1 L569.3,1948.2 L570.3,1945.4 L571.3,1942.6 L572.2,1939.7 L573.2,1936.9 L574.1,1934.0 L575.0,1931.2 L575.9,1928.3 L576.8,1925.5 L577.7,1922.6 L578.6,1919.7 L579.5,1916.9 L580.4,1914.0 L581.3,1911.1 L582.1,1908.3 L583.0,1905.4 L583.9,1902.5 L584.7,1899.6 L585.6,1896.8 L586.4,1893.9 L587.3,1891.0 L588.1,1888.1 L589.0,1885.3 L589.8,1882.4 L590.7,1879.5 L591.5,1876.6 L592.4,1873.7 L593.2,1870.9 L594.1,1868.0 L595.0,1865.1 L595.8,1862.2 L596.7,1859.4 L597.6,1856.5 L598.4,1853.6 L599.3,1850.8 L600.2,1847.9 L601.1,1845.0 L602.0,1842.2 L602.9,1839.3 L603.8,1836.4 L604.7,1833.6 L605.6,1830.7 L606.5,1827.9 L607.4,1825.0 L608.3,1822.1 L609.2,1819.3 L610.1,1816.4 L611.1,1813.6 L612.0,1810.7 L612.9,1807.9 L613.9,1805.0 L614.8,1802.2 L615.8,1799.3 L616.7,1796.5 L617.7,1793.6 L618.6,1790.8 L619.6,1788.0 L620.5,1785.1 L621.5,1782.3 L622.5,1779.4 L623.5,1776.6 L624.5,1773.8 L625.4,1770.9 L626.4,1768.1 L627.4,1765.3 L628.4,1762.4 L629.4,1759.6 L630.5,1756.8 L631.5,1754.0 L632.5,1751.2 L633.5,1748.3 L634.5,1745.5 L635.6,1742.7 L636.6,1739.9 L637.7,1737.1 L638.7,1734.3 L639.8,1731.5 L640.8,1728.6 L641.9,1725.8 L642.9,1723.0 L644.0,1720.2 L645.1,1717.4 L646.2,1714.6 L647.3,1711.8 L648.4,1709.0 L649.4,1706.3 L650.5,1703.5 L651.7,1700.7 L652.8,1697.9 L653.9,1695.1 L655.0,1692.3 L656.1,1689.5 L657.3,1686.8 L658.4,1684.0 L659.5,1681.2 L660.7,1678.4 L661.8,1675.7 L663.0,1672.9 L664.2,1670.1 L665.3,1667.4 L666.5,1664.6 L667.7,1661.8 L668.9,1659.1 L670.0,1656.3 L671.2,1653.6 L672.4,1650.8 L673.6,1648.1 L674.8,1645.3 L676.1,1642.6 L677.3,1639.9 L678.5,1637.1 L679.7,1634.4 L681.0,1631.7 L682.2,1628.9 L683.5,1626.2 L684.8,1623.5 L686.1,1620.8 L687.4,1618.1 L688.7,1615.4 L690.0,1612.7 L691.4,1610.0 L692.7,1607.3 L694.1,1604.7 L695.5,1602.0 L696.9,1599.4 L698.3,1596.7 L699.8,1594.1 L701.3,1591.5 L702.8,1588.9 L704.3,1586.3 L705.8,1583.7 L707.4,1581.2 L709.0,1578.6 L710.6,1576.1 L712.2,1573.6 L713.9,1571.1 L715.6,1568.6 L717.3,1566.2 L719.1,1563.8 L720.9,1561.3 L722.7,1559.0 L724.6,1556.6 L726.5,1554.3 L728.4,1552.0 L730.3,1549.7 L732.3,1547.4 L734.3,1545.2 L736.4,1543.0 L738.5,1540.9 L740.6,1538.8 L742.8,1536.7 L745.0,1534.7 L747.2,1532.7 L749.5,1530.7 L751.8,1528.8 L754.1,1526.9 L756.5,1525.1 L758.9,1523.3 L761.4,1521.6 L763.9,1519.9 L766.4,1518.2 L768.9,1516.6 L771.4,1515.0 L774.0,1513.5 L776.6,1512.0 L779.3,1510.6 L781.9,1509.2 L784.6,1507.9 L787.3,1506.5 L790.0,1505.3 L792.8,1504.1 L795.5,1502.9 L798.3,1501.7 L801.1,1500.6 L803.9,1499.6 L806.7,1498.5 L809.6,1497.6 L812.4,1496.6 L815.3,1495.7 L818.1,1494.9 L821.0,1494.1 L823.9,1493.3 L826.8,1492.5 L829.7,1491.8 L832.6,1491.1 L835.6,1490.4 L838.5,1489.8 L841.4,1489.1 L844.4,1488.5 L847.3,1487.9 L850.3,1487.4 L853.2,1486.8 L856.2,1486.3 L859.1,1485.7 L862.1,1485.2 L865.0,1484.7 L868.0,1484.2 L870.9,1483.7 L873.9,1483.2 L876.8,1482.7 L879.8,1482.2 L882.8,1481.7 L885.7,1481.2 L888.7,1480.7 L891.7,1480.3 L894.6,1479.8 L897.6,1479.3 L900.5,1478.9 L903.5,1478.4 L906.5,1478.0 L909.4,1477.5 L912.4,1477.1 L915.4,1476.7 L918.3,1476.2 L921.3,1475.8 L924.3,1475.4 L927.3,1474.9 L930.2,1474.5 L933.2,1474.1 L936.2,1473.7 L939.1,1473.3 L942.1,1472.9 L945.1,1472.5 L948.1,1472.1 L951.0,1471.7 L954.0,1471.3 L957.0,1471.0 L960.0,1470.6 L962.9,1470.2 L965.9,1469.8 L968.9,1469.5 L971.9,1469.1 L974.9,1468.8 L977.8,1468.4 L980.8,1468.1 L983.8,1467.7 L986.8,1467.4 L989.8,1467.0 L992.7,1466.7 L995.7,1466.4 L998.7,1466.0 L1001.7,1465.7 L1004.7,1465.4 L1007.6,1465.1 L1010.6,1464.8 L1013.6,1464.4 L1016.6,1464.1 L1019.6,1463.8 L1022.6,1463.5 L1025.6,1463.2 L1028.5,1462.9 L1031.5,1462.6 L1034.5,1462.4 L1037.5,1462.1 L1040.5,1461.8 L1043.5,1461.5 L1046.5,1461.2 L1049.4,1461.0 L1052.4,1460.7 L1055.4,1460.4 L1058.4,1460.1 L1061.4,1459.9 L1064.4,1459.6 L1067.4,1459.4 L1070.4,1459.1 L1073.4,1458.9 L1076.3,1458.6 L1079.3,1458.4 L1082.3,1458.1 L1085.3,1457.9 L1088.3,1457.6 L1091.3,1457.4 L1094.3,1457.2 L1097.3,1456.9 L1100.3,1456.7 L1103.3,1456.5 L1106.3,1456.2 L1109.2,1456.0 L1112.2,1455.8 L1115.2,1455.6 L1118.2,1455.4 L1121.2,1455.1 L1124.2,1454.9 L1127.2,1454.7 L1130.2,1454.5 L1133.2,1454.3 L1136.2,1454.1 L1139.2,1453.9 L1142.2,1453.7 L1145.2,1453.5 L1148.1,1453.3 L1151.1,1453.1 L1154.1,1452.9 L1157.1,1452.7 L1160.1,1452.5 L1163.1,1452.3 L1166.1,1452.2 L1169.1,1452.0 L1172.1,1451.8 L1175.1,1451.6 L1178.1,1451.4 L1181.1,1451.3 L1184.1,1451.1 L1187.1,1450.9 L1190.1,1450.7 L1193.1,1450.6 L1196.1,1450.4 L1199.1,1450.2 L1202.0,1450.1 L1205.0,1449.9 L1208.0,1449.7 L1211.0,1449.6 L1214.0,1449.4 L1217.0,1449.2 L1220.0,1449.1 L1223.0,1448.9 L1226.0,1448.8 L1229.0,1448.6 L1232.0,1448.5 L1235.0,1448.3 L1238.0,1448.2 L1241.0,1448.0 L1244.0,1447.9 L1247.0,1447.8 L1250.0,1447.6 L1253.0,1447.5 L1256.0,1447.3 L1259.0,1447.2 L1262.0,1447.1 L1265.0,1446.9 L1268.0,1446.8 L1271.0,1446.7 L1274.0,1446.6 L1277.0,1446.4 L1280.0,1446.3 L1283.0,1446.2 L1286.0,1446.1 L1289.0,1445.9 L1291.9,1445.8 L1294.9,1445.7 L1297.9,1445.6 L1300.9,1445.5 L1303.9,1445.3 L1306.9,1445.2 L1309.9,1445.1 L1312.9,1445.0 L1315.9,1444.9 L1318.9,1444.8 L1321.9,1444.7 L1324.9,1444.6 L1327.9,1444.5 L1330.9,1444.4 L1333.9,1444.3 L1336.9,1444.2 L1339.9,1444.1 L1342.9,1444.0 L1345.9,1443.9 L1348.9,1443.8 L1351.9,1443.7 L1354.9,1443.6 L1357.9,1443.5 L1360.9,1443.4 L1363.9,1443.3 L1366.9,1443.3 L1369.9,1443.2 L1372.9,1443.1 L1375.9,1443.0 L1378.9,1442.9 L1381.9,1442.8 L1384.9,1442.8 L1387.9,1442.7 L1390.9,1442.6 L1393.9,1442.5 L1396.9,1442.4 L1399.9,1442.4 L1402.9,1442.3 L1405.9,1442.2 L1408.9,1442.2 L1411.9,1442.1 L1414.9,1442.0 L1417.9,1441.9 L1420.9,1441.9 L1423.9,1441.8 L1426.9,1441.7 L1429.9,1441.7 L1432.9,1441.6 L1435.9,1441.6 L1438.9,1441.5 L1441.9,1441.4 L1444.9,1441.4 L1447.9,1441.3 L1450.9,1441.3 L1453.9,1441.2 L1456.9,1441.2 L1459.9,1441.1 L1462.9,1441.0 L1465.9,1441.0 L1468.9,1440.9 L1471.9,1440.9 L1474.9,1440.8 L1477.9,1440.8 L1480.9,1440.7 L1483.9,1440.7 L1486.9,1440.7 L1489.9,1440.6 L1492.9,1440.6 L1495.9,1440.5 L1498.9,1440.5 L1501.9,1440.4 L1504.9,1440.4 L1507.9,1440.4 L1510.9,1440.3 L1513.9,1440.3 L1516.9,1440.2 L1519.9,1440.2 L1522.9,1440.2 L1525.9,1440.1 L1528.9,1440.1 L1531.9,1440.1 L1534.9,1440.0 L1537.9,1440.0 L1540.9,1440.0 L1543.9,1439.9 L1546.9,1439.9 L1549.9,1439.9 L1552.9,1439.8 L1555.9,1439.8 L1558.9,1439.8 L1561.9,1439.8 L1564.9,1439.7 L1567.9,1439.7 L1570.9,1439.7 L1573.9,1439.7 L1576.9,1439.6 L1579.9,1439.6 L1582.9,1439.6 L1585.9,1439.6 L1588.9,1439.5 L1591.9,1439.5 L1594.9,1439.5 L1597.9,1439.5 L1600.9,1439.5 L1603.9,1439.4 L1606.9,1439.4 L1609.9,1439.4 L1612.9,1439.4 L1615.9,1439.4 L1618.9,1439.4 L1621.9,1439.3 L1624.9,1439.3 L1627.9,1439.3 L1630.9,1439.3 L1633.9,1439.3 L1636.9,1439.3 L1639.9,1439.3 L1642.9,1439.2 L1645.9,1439.2 L1648.9,1439.2 L1651.9,1439.2 L1654.9,1439.2 L1657.9,1439.2 L1660.9,1439.2 L1663.9,1439.2 L1666.9,1439.2 L1669.9,1439.1 L1672.9,1439.1 L1675.9,1439.1 L1678.9,1439.1 L1681.9,1439.1 L1684.9,1439.1 L1687.9,1439.1 L1690.9,1439.1 L1693.9,1439.1 L1696.9,1439.1 L1699.9,1439.1 L1702.9,1439.1 L1705.9,1439.1 L1708.9,1439.1 L1711.9,1439.0 L1714.9,1439.0 L1717.9,1439.0 L1720.9,1439.0 L1723.9,1439.0 L1726.9,1439.0 L1729.9,1439.0 L1732.9,1439.0 L1735.9,1439.0 L1738.9,1439.0 L1741.9,1439.0 L1744.9,1439.0 L1747.9,1439.0 L1750.9,1439.0 L1753.9,1439.0 L1756.9,1439.0 L1759.9,1439.0 L1762.9,1439.0 L1765.9,1439.0 L1768.9,1439.0 L1771.9,1439.0 L1774.9,1439.0 L1777.9,1439.0 L1780.9,1439.0 L1783.9,1439.0 L1786.9,1439.0 L1789.9,1439.0 L1792.9,1439.0 L1795.9,1439.0 L1798.9,1439.0 L1801.9,1439.0 L1804.9,1439.0 L1807.9,1438.9 L1810.9,1438.9 L1813.9,1438.9 L1816.9,1438.9 L1819.9,1438.9 L1822.9,1438.9 L1825.9,1438.9 L1828.9,1438.9 L1831.9,1438.9 L1834.9,1438.9 L1837.9,1438.9 L1840.9,1438.9 L1843.9,1438.9 L1846.9,1438.9 L1849.9,1438.9 L1852.9,1438.9 L1855.9,1438.9 L1858.9,1438.9 L1861.9,1438.9 L1864.9,1438.9 L1867.9,1438.9 L1870.9,1438.9 L1873.9,1438.9 L1876.9,1438.9 L1879.9,1438.9 L1882.9,1438.9 L1885.9,1438.8 L1888.9,1438.8 L1891.9,1438.8 L1894.9,1438.8 L1897.9,1438.8 L1900.9,1438.8 L1903.9,1438.8 L1906.9,1438.8 L1909.9,1438.8 L1912.9,1438.8 L1915.9,1438.8 L1918.9,1438.8 L1921.9,1438.7 L1924.9,1438.7 L1927.9,1438.7 L1930.9,1438.7 L1933.9,1438.7 L1936.9,1438.7 L1939.9,1438.7 L1942.9,1438.7 L1945.9,1438.6 L1948.9,1438.6 L1951.9,1438.6 L1954.9,1438.6 L1957.9,1438.6 L1960.9,1438.6 L1963.9,1438.6 L1966.9,1438.5 L1969.9,1438.5 L1972.9,1438.5 L1975.9,1438.5 L1978.9,1438.5 L1981.9,1438.5 L1984.9,1438.4 L1987.9,1438.4 L1990.9,1438.4 L1993.9,1438.4 L1996.9,1438.3 L1999.9,1438.3 L2002.9,1438.3 L2003.0,1438.3" fill="none" stroke="#008b00" stroke-width="9" stroke-linejoin="round" stroke-linecap="butt" stroke-dasharray="43 24 10 24 43 24" stroke-dashoffset="0"/>
<path d="M353.0,1438.3 L356.0,1438.3 L359.0,1438.4 L362.0,1438.4 L365.0,1438.4 L368.0,1438.5 L371.0,1438.5 L374.0,1438.5 L377.0,1438.6 L380.0,1438.6 L383.0,1438.7 L386.0,1438.7 L389.0,1438.8 L392.0,1438.9 L395.0,1438.9 L398.0,1439.0 L401.0,1439.0 L404.0,1439.1 L407.0,1439.2 L410.0,1439.2 L413.0,1439.3 L416.0,1439.4 L419.0,1439.5 L422.0,1439.6 L425.0,1439.6 L428.0,1439.7 L431.0,1439.8 L434.0,1439.9 L437.0,1440.0 L440.0,1440.1 L443.0,1440.2 L446.0,1440.3 L449.0,1440.4 L452.0,1440.5 L455.0,1440.6 L458.0,1440.7 L461.0,1440.9 L464.0,1441.0 L467.0,1441.1 L470.0,1441.2 L473.0,1441.4 L476.0,1441.5 L478.9,1441.6 L481.9,1441.8 L484.9,1441.9 L487.9,1442.0 L490.9,1442.2 L493.9,1442.3 L496.9,1442.5 L499.9,1442.6 L502.9,1442.8 L505.9,1443.0 L508.9,1443.1 L511.9,1443.3 L514.9,1443.5 L517.9,1443.6 L520.9,1443.8 L523.9,1444.0 L526.9,1444.2 L529.9,1444.4 L532.9,1444.5 L535.9,1444.7 L538.9,1444.9 L541.8,1445.1 L544.8,1445.3 L547.8,1445.5 L550.8,1445.7 L553.8,1446.0 L556.8,1446.2 L559.8,1446.4 L562.8,1446.6 L565.8,1446.8 L568.8,1447.1 L571.8,1447.3 L574.8,1447.5 L577.8,1447.8 L580.7,1448.0 L583.7,1448.3 L586.7,1448.5 L589.7,1448.8 L592.7,1449.0 L595.7,1449.3 L598.7,1449.5 L601.7,1449.8 L604.7,1450.1 L607.6,1450.3 L610.6,1450.6 L613.6,1450.9 L616.6,1451.2 L619.6,1451.5 L622.6,1451.8 L625.6,1452.1 L628.5,1452.4 L631.5,1452.7 L634.5,1453.0 L637.5,1453.3 L640.5,1453.6 L643.5,1453.9 L646.4,1454.2 L649.4,1454.6 L652.4,1454.9 L655.4,1455.2 L658.4,1455.6 L661.4,1455.9 L664.3,1456.2 L667.3,1456.6 L670.3,1456.9 L673.3,1457.3 L676.2,1457.7 L679.2,1458.0 L682.2,1458.4 L685.2,1458.8 L688.2,1459.1 L691.1,1459.5 L694.1,1459.9 L697.1,1460.3 L700.1,1460.7 L703.0,1461.1 L706.0,1461.5 L709.0,1461.9 L711.9,1462.3 L714.9,1462.7 L717.9,1463.1 L720.9,1463.5 L723.8,1464.0 L726.8,1464.4 L729.8,1464.8 L732.7,1465.3 L735.7,1465.7 L738.7,1466.2 L741.6,1466.6 L744.6,1467.1 L747.6,1467.5 L750.5,1468.0 L753.5,1468.4 L756.5,1468.9 L759.4,1469.4 L762.4,1469.8 L765.4,1470.3 L768.3,1470.8 L771.3,1471.2 L774.2,1471.7 L777.2,1472.2 L780.2,1472.7 L783.1,1473.2 L786.1,1473.6 L789.0,1474.1 L792.0,1474.6 L795.0,1475.1 L797.9,1475.6 L800.9,1476.1 L803.8,1476.6 L806.8,1477.1 L809.8,1477.6 L812.7,1478.1 L815.7,1478.6 L818.6,1479.1 L821.6,1479.6 L824.5,1480.1 L827.5,1480.6 L830.5,1481.1 L833.4,1481.6 L836.4,1482.1 L839.3,1482.6 L842.3,1483.1 L845.3,1483.6 L848.2,1484.1 L851.2,1484.6 L854.1,1485.1 L857.1,1485.6 L860.0,1486.1 L863.0,1486.6 L866.0,1487.1 L868.9,1487.6 L871.9,1488.1 L874.8,1488.6 L877.8,1489.1 L880.8,1489.6 L883.7,1490.1 L886.7,1490.6 L889.6,1491.1 L892.6,1491.5 L895.6,1492.0 L898.5,1492.5 L901.5,1493.0 L904.4,1493.5 L907.4,1493.9 L910.4,1494.4 L913.3,1494.9 L916.3,1495.3 L919.3,1495.8 L922.2,1496.3 L925.2,1496.7 L928.1,1497.2 L931.1,1497.6 L934.1,1498.1 L937.0,1498.5 L940.0,1498.9 L943.0,1499.4 L946.0,1499.8 L948.9,1500.2 L951.9,1500.6 L954.9,1501.0 L957.8,1501.4 L960.8,1501.8 L963.8,1502.2 L966.8,1502.6 L969.7,1502.9 L972.7,1503.3 L975.7,1503.7 L978.7,1504.0 L981.7,1504.4 L984.6,1504.7 L987.6,1505.0 L990.6,1505.4 L993.6,1505.7 L996.6,1506.0 L999.6,1506.3 L1002.5,1506.6 L1005.5,1506.8 L1008.5,1507.1 L1011.5,1507.4 L1014.5,1507.6 L1017.5,1507.9 L1020.5,1508.1 L1023.5,1508.3 L1026.5,1508.5 L1029.5,1508.7 L1032.5,1508.9 L1035.4,1509.1 L1038.4,1509.3 L1041.4,1509.4 L1044.4,1509.5 L1047.4,1509.7 L1050.4,1509.8 L1053.4,1509.9 L1056.4,1510.0 L1059.4,1510.1 L1062.4,1510.1 L1065.4,1510.2 L1068.4,1510.2 L1071.4,1510.3 L1074.4,1510.3 L1077.4,1510.3 L1080.4,1510.3 L1083.4,1510.3 L1086.4,1510.2 L1089.4,1510.2 L1092.4,1510.1 L1095.4,1510.1 L1098.4,1510.0 L1101.4,1509.9 L1104.4,1509.8 L1107.4,1509.7 L1110.4,1509.6 L1113.4,1509.5 L1116.4,1509.3 L1119.4,1509.2 L1122.4,1509.0 L1125.4,1508.8 L1128.4,1508.7 L1131.4,1508.5 L1134.4,1508.3 L1137.4,1508.1 L1140.4,1507.9 L1143.4,1507.6 L1146.3,1507.4 L1149.3,1507.2 L1152.3,1506.9 L1155.3,1506.7 L1158.3,1506.4 L1161.3,1506.1 L1164.3,1505.9 L1167.3,1505.6 L1170.3,1505.3 L1173.2,1505.0 L1176.2,1504.7 L1179.2,1504.4 L1182.2,1504.1 L1185.2,1503.7 L1188.2,1503.4 L1191.1,1503.1 L1194.1,1502.7 L1197.1,1502.4 L1200.1,1502.0 L1203.1,1501.6 L1206.0,1501.3 L1209.0,1500.9 L1212.0,1500.5 L1215.0,1500.2 L1217.9,1499.8 L1220.9,1499.4 L1223.9,1499.0 L1226.9,1498.6 L1229.8,1498.2 L1232.8,1497.8 L1235.8,1497.4 L1238.7,1497.0 L1241.7,1496.5 L1244.7,1496.1 L1247.7,1495.7 L1250.6,1495.3 L1253.6,1494.9 L1256.6,1494.4 L1259.5,1494.0 L1262.5,1493.6 L1265.5,1493.1 L1268.4,1492.7 L1271.4,1492.2 L1274.4,1491.8 L1277.3,1491.4 L1280.3,1490.9 L1283.3,1490.5 L1286.2,1490.0 L1289.2,1489.6 L1292.2,1489.1 L1295.1,1488.7 L1298.1,1488.2 L1301.1,1487.8 L1304.0,1487.3 L1307.0,1486.9 L1310.0,1486.4 L1312.9,1486.0 L1315.9,1485.5 L1318.9,1485.1 L1321.8,1484.6 L1324.8,1484.2 L1327.8,1483.7 L1330.7,1483.3 L1333.7,1482.9 L1336.7,1482.4 L1339.6,1482.0 L1342.6,1481.5 L1345.6,1481.1 L1348.5,1480.7 L1351.5,1480.2 L1354.5,1479.8 L1357.4,1479.4 L1360.4,1479.0 L1363.4,1478.5 L1366.4,1478.1 L1369.3,1477.7 L1372.3,1477.3 L1375.3,1476.9 L1378.2,1476.5 L1381.2,1476.1 L1384.2,1475.7 L1387.2,1475.3 L1390.1,1474.9 L1393.1,1474.5 L1396.1,1474.2 L1399.1,1473.8 L1402.0,1473.4 L1405.0,1473.0 L1408.0,1472.7 L1411.0,1472.3 L1414.0,1471.9 L1416.9,1471.6 L1419.9,1471.2 L1422.9,1470.9 L1425.9,1470.5 L1428.9,1470.2 L1431.8,1469.9 L1434.8,1469.5 L1437.8,1469.2 L1440.8,1468.9 L1443.8,1468.5 L1446.7,1468.2 L1449.7,1467.9 L1452.7,1467.6 L1455.7,1467.3 L1458.7,1467.0 L1461.7,1466.7 L1464.7,1466.4 L1467.6,1466.1 L1470.6,1465.8 L1473.6,1465.5 L1476.6,1465.2 L1479.6,1464.9 L1482.6,1464.6 L1485.6,1464.3 L1488.5,1464.1 L1491.5,1463.8 L1494.5,1463.5 L1497.5,1463.3 L1500.5,1463.0 L1503.5,1462.7 L1506.5,1462.5 L1509.5,1462.2 L1512.5,1462.0 L1515.4,1461.7 L1518.4,1461.5 L1521.4,1461.2 L1524.4,1461.0 L1527.4,1460.8 L1530.4,1460.5 L1533.4,1460.3 L1536.4,1460.1 L1539.4,1459.8 L1542.4,1459.6 L1545.3,1459.4 L1548.3,1459.2 L1551.3,1458.9 L1554.3,1458.7 L1557.3,1458.5 L1560.3,1458.3 L1563.3,1458.1 L1566.3,1457.9 L1569.3,1457.7 L1572.3,1457.5 L1575.3,1457.3 L1578.3,1457.1 L1581.3,1456.9 L1584.3,1456.7 L1587.3,1456.6 L1590.2,1456.4 L1593.2,1456.2 L1596.2,1456.0 L1599.2,1455.8 L1602.2,1455.7 L1605.2,1455.5 L1608.2,1455.3 L1611.2,1455.2 L1614.2,1455.0 L1617.2,1454.8 L1620.2,1454.7 L1623.2,1454.5 L1626.2,1454.4 L1629.2,1454.2 L1632.2,1454.0 L1635.2,1453.9 L1638.2,1453.7 L1641.2,1453.6 L1644.2,1453.5 L1647.2,1453.3 L1650.2,1453.2 L1653.2,1453.0 L1656.2,1452.9 L1659.2,1452.8 L1662.2,1452.6 L1665.1,1452.5 L1668.1,1452.4 L1671.1,1452.3 L1674.1,1452.1 L1677.1,1452.0 L1680.1,1451.9 L1683.1,1451.8 L1686.1,1451.7 L1689.1,1451.5 L1692.1,1451.4 L1695.1,1451.3 L1698.1,1451.2 L1701.1,1451.1 L1704.1,1451.0 L1707.1,1450.9 L1710.1,1450.8 L1713.1,1450.7 L1716.1,1450.6 L1719.1,1450.5 L1722.1,1450.4 L1725.1,1450.3 L1728.1,1450.2 L1731.1,1450.1 L1734.1,1450.0 L1737.1,1449.9 L1740.1,1449.8 L1743.1,1449.7 L1746.1,1449.6 L1749.1,1449.6 L1752.1,1449.5 L1755.1,1449.4 L1758.1,1449.3 L1761.1,1449.2 L1764.1,1449.2 L1767.1,1449.1 L1770.1,1449.0 L1773.1,1448.9 L1776.1,1448.9 L1779.1,1448.8 L1782.1,1448.7 L1785.1,1448.6 L1788.1,1448.6 L1791.1,1448.5 L1794.1,1448.4 L1797.1,1448.4 L1800.1,1448.3 L1803.1,1448.2 L1806.1,1448.2 L1809.1,1448.1 L1812.1,1448.0 L1815.1,1448.0 L1818.1,1447.9 L1821.1,1447.9 L1824.1,1447.8 L1827.1,1447.7 L1830.1,1447.7 L1833.1,1447.6 L1836.1,1447.6 L1839.1,1447.5 L1842.1,1447.5 L1845.1,1447.4 L1848.1,1447.4 L1851.1,1447.3 L1854.1,1447.3 L1857.1,1447.2 L1860.1,1447.2 L1863.1,1447.1 L1866.1,1447.1 L1869.1,1447.0 L1872.1,1447.0 L1875.1,1446.9 L1878.1,1446.9 L1881.1,1446.8 L1884.1,1446.8 L1887.1,1446.7 L1890.1,1446.7 L1893.1,1446.6 L1896.1,1446.6 L1899.1,1446.5 L1902.1,1446.5 L1905.1,1446.4 L1908.1,1446.4 L1911.1,1446.4 L1914.1,1446.3 L1917.1,1446.3 L1920.1,1446.2 L1923.1,1446.2 L1926.1,1446.1 L1929.1,1446.1 L1932.1,1446.1 L1935.1,1446.0 L1938.1,1446.0 L1941.1,1445.9 L1944.1,1445.9 L1947.1,1445.8 L1950.1,1445.8 L1953.1,1445.8 L1956.1,1445.7 L1959.1,1445.7 L1962.1,1445.6 L1965.1,1445.6 L1968.1,1445.5 L1971.1,1445.5 L1974.1,1445.4 L1977.1,1445.4 L1980.1,1445.4 L1983.1,1445.3 L1986.1,1445.3 L1989.1,1445.2 L1992.1,1445.2 L1995.1,1445.1 L1998.1,1445.1 L2001.1,1445.0 L2003.0,1445.0" fill="none" stroke="#0000ff" stroke-width="12" stroke-linejoin="round" stroke-linecap="butt" stroke-dasharray="12 32.6 56 32.6" stroke-dashoffset="0"/>
<path d="M667.0,2619.5 L667.3,2616.5 L667.5,2613.5 L667.8,2610.5 L668.1,2607.5 L668.3,2604.6 L668.6,2601.6 L668.8,2598.6 L669.1,2595.6 L669.4,2592.6 L669.6,2589.6 L669.9,2586.6 L670.2,2583.6 L670.4,2580.6 L670.7,2577.7 L670.9,2574.7 L671.2,2571.7 L671.5,2568.7 L671.7,2565.7 L672.0,2562.7 L672.2,2559.7 L672.5,2556.7 L672.7,2553.8 L673.0,2550.8 L673.3,2547.8 L673.5,2544.8 L673.8,2541.8 L674.0,2538.8 L674.3,2535.8 L674.6,2532.8 L674.8,2529.8 L675.1,2526.9 L675.3,2523.9 L675.6,2520.9 L675.9,2517.9 L676.1,2514.9 L676.4,2511.9 L676.6,2508.9 L676.9,2505.9 L677.2,2502.9 L677.4,2500.0 L677.7,2497.0 L677.9,2494.0 L678.2,2491.0 L678.5,2488.0 L678.7,2485.0 L679.0,2482.0 L679.3,2479.0 L679.5,2476.0 L679.8,2473.1 L680.0,2470.1 L680.3,2467.1 L680.6,2464.1 L680.8,2461.1 L681.1,2458.1 L681.4,2455.1 L681.6,2452.1 L681.9,2449.2 L682.2,2446.2 L682.5,2443.2 L682.7,2440.2 L683.0,2437.2 L683.3,2434.2 L683.5,2431.2 L683.8,2428.2 L684.1,2425.2 L684.4,2422.3 L684.6,2419.3 L684.9,2416.3 L685.2,2413.3 L685.5,2410.3 L685.7,2407.3 L686.0,2404.3 L686.3,2401.4 L686.6,2398.4 L686.9,2395.4 L687.1,2392.4 L687.4,2389.4 L687.7,2386.4 L688.0,2383.4 L688.3,2380.4 L688.6,2377.5 L688.9,2374.5 L689.1,2371.5 L689.4,2368.5 L689.7,2365.5 L690.0,2362.5 L690.3,2359.5 L690.6,2356.6 L690.9,2353.6 L691.2,2350.6 L691.5,2347.6 L691.8,2344.6 L692.1,2341.6 L692.4,2338.7 L692.7,2335.7 L693.0,2332.7 L693.3,2329.7 L693.6,2326.7 L693.9,2323.7 L694.3,2320.7 L694.6,2317.8 L694.9,2314.8 L695.2,2311.8 L695.5,2308.8 L695.8,2305.8 L696.2,2302.8 L696.5,2299.9 L696.8,2296.9 L697.1,2293.9 L697.4,2290.9 L697.8,2287.9 L698.1,2285.0 L698.4,2282.0 L698.8,2279.0 L699.1,2276.0 L699.4,2273.0 L699.8,2270.0 L700.1,2267.1 L700.5,2264.1 L700.8,2261.1 L701.1,2258.1 L701.5,2255.1 L701.8,2252.2 L702.2,2249.2 L702.5,2246.2 L702.9,2243.2 L703.2,2240.2 L703.6,2237.3 L704.0,2234.3 L704.3,2231.3 L704.7,2228.3 L705.1,2225.4 L705.4,2222.4 L705.8,2219.4 L706.2,2216.4 L706.5,2213.4 L706.9,2210.5 L707.3,2207.5 L707.7,2204.5 L708.1,2201.5 L708.4,2198.6 L708.8,2195.6 L709.2,2192.6 L709.6,2189.6 L710.0,2186.7 L710.4,2183.7 L710.8,2180.7 L711.2,2177.7 L711.6,2174.8 L712.0,2171.8 L712.4,2168.8 L712.8,2165.9 L713.2,2162.9 L713.6,2159.9 L714.1,2156.9 L714.5,2154.0 L714.9,2151.0 L715.3,2148.0 L715.8,2145.1 L716.2,2142.1 L716.6,2139.1 L717.0,2136.2 L717.5,2133.2 L717.9,2130.2 L718.4,2127.3 L718.8,2124.3 L719.3,2121.3 L719.7,2118.4 L720.2,2115.4 L720.6,2112.4 L721.1,2109.5 L721.5,2106.5 L722.0,2103.5 L722.5,2100.6 L722.9,2097.6 L723.4,2094.6 L723.9,2091.7 L724.4,2088.7 L724.8,2085.8 L725.3,2082.8 L725.8,2079.8 L726.3,2076.9 L726.8,2073.9 L727.3,2071.0 L727.8,2068.0 L728.3,2065.0 L728.8,2062.1 L729.3,2059.1 L729.8,2056.2 L730.3,2053.2 L730.8,2050.3 L731.4,2047.3 L731.9,2044.4 L732.4,2041.4 L732.9,2038.4 L733.5,2035.5 L734.0,2032.5 L734.5,2029.6 L735.1,2026.6 L735.6,2023.7 L736.2,2020.7 L736.7,2017.8 L737.3,2014.8 L737.8,2011.9 L738.4,2009.0 L739.0,2006.0 L739.5,2003.1 L740.1,2000.1 L740.7,1997.2 L741.3,1994.2 L741.9,1991.3 L742.4,1988.3 L743.0,1985.4 L743.6,1982.5 L744.2,1979.5 L744.8,1976.6 L745.4,1973.6 L746.0,1970.7 L746.6,1967.8 L747.3,1964.8 L747.9,1961.9 L748.5,1959.0 L749.1,1956.0 L749.7,1953.1 L750.4,1950.2 L751.0,1947.2 L751.7,1944.3 L752.3,1941.4 L753.0,1938.4 L753.6,1935.5 L754.3,1932.6 L755.0,1929.7 L755.6,1926.7 L756.3,1923.8 L757.0,1920.9 L757.7,1918.0 L758.4,1915.1 L759.1,1912.1 L759.8,1909.2 L760.5,1906.3 L761.3,1903.4 L762.0,1900.5 L762.7,1897.6 L763.5,1894.7 L764.3,1891.8 L765.0,1888.9 L765.8,1886.0 L766.6,1883.1 L767.4,1880.2 L768.2,1877.3 L769.0,1874.4 L769.8,1871.5 L770.7,1868.7 L771.5,1865.8 L772.4,1862.9 L773.2,1860.0 L774.1,1857.2 L775.0,1854.3 L775.9,1851.4 L776.8,1848.6 L777.7,1845.7 L778.7,1842.9 L779.6,1840.0 L780.6,1837.2 L781.6,1834.4 L782.5,1831.5 L783.5,1828.7 L784.6,1825.9 L785.6,1823.0 L786.6,1820.2 L787.7,1817.4 L788.7,1814.6 L789.8,1811.8 L790.9,1809.0 L792.0,1806.2 L793.1,1803.5 L794.3,1800.7 L795.4,1797.9 L796.6,1795.1 L797.8,1792.4 L798.9,1789.6 L800.2,1786.9 L801.4,1784.1 L802.6,1781.4 L803.9,1778.7 L805.1,1776.0 L806.4,1773.3 L807.7,1770.6 L809.1,1767.9 L810.4,1765.2 L811.8,1762.5 L813.1,1759.8 L814.5,1757.2 L815.9,1754.5 L817.4,1751.9 L818.8,1749.3 L820.3,1746.6 L821.7,1744.0 L823.2,1741.4 L824.8,1738.9 L826.3,1736.3 L827.9,1733.7 L829.4,1731.2 L831.0,1728.6 L832.7,1726.1 L834.3,1723.6 L836.0,1721.1 L837.6,1718.6 L839.3,1716.1 L841.1,1713.7 L842.8,1711.2 L844.6,1708.8 L846.4,1706.4 L848.2,1704.0 L850.0,1701.6 L851.9,1699.3 L853.8,1696.9 L855.7,1694.6 L857.6,1692.3 L859.5,1690.1 L861.5,1687.8 L863.5,1685.6 L865.5,1683.3 L867.6,1681.1 L869.6,1679.0 L871.7,1676.8 L873.9,1674.7 L876.0,1672.6 L878.2,1670.5 L880.3,1668.5 L882.5,1666.4 L884.8,1664.4 L887.0,1662.4 L889.3,1660.5 L891.6,1658.5 L893.9,1656.6 L896.2,1654.7 L898.6,1652.8 L900.9,1651.0 L903.3,1649.2 L905.7,1647.4 L908.1,1645.6 L910.5,1643.8 L913.0,1642.1 L915.5,1640.4 L917.9,1638.7 L920.4,1637.0 L922.9,1635.4 L925.4,1633.7 L928.0,1632.1 L930.5,1630.5 L933.1,1629.0 L935.6,1627.4 L938.2,1625.9 L940.8,1624.4 L943.4,1622.9 L946.0,1621.4 L948.7,1619.9 L951.3,1618.5 L953.9,1617.1 L956.6,1615.7 L959.2,1614.3 L961.9,1612.9 L964.6,1611.6 L967.3,1610.2 L970.0,1608.9 L972.7,1607.6 L975.4,1606.3 L978.1,1605.0 L980.8,1603.8 L983.5,1602.5 L986.3,1601.3 L989.0,1600.1 L991.8,1598.9 L994.5,1597.7 L997.3,1596.5 L1000.0,1595.4 L1002.8,1594.2 L1005.6,1593.1 L1008.4,1591.9 L1011.2,1590.8 L1013.9,1589.7 L1016.7,1588.6 L1019.5,1587.5 L1022.3,1586.5 L1025.2,1585.4 L1028.0,1584.4 L1030.8,1583.3 L1033.6,1582.3 L1036.4,1581.3 L1039.2,1580.3 L1042.1,1579.3 L1044.9,1578.3 L1047.7,1577.3 L1050.6,1576.3 L1053.4,1575.3 L1056.2,1574.4 L1059.1,1573.4 L1061.9,1572.5 L1064.8,1571.5 L1067.6,1570.6 L1070.5,1569.7 L1073.3,1568.8 L1076.2,1567.8 L1079.1,1566.9 L1081.9,1566.0 L1084.8,1565.1 L1087.7,1564.3 L1090.5,1563.4 L1093.4,1562.5 L1096.3,1561.6 L1099.1,1560.8 L1102.0,1559.9 L1104.9,1559.0 L1107.8,1558.2 L1110.6,1557.3 L1113.5,1556.5 L1116.4,1555.7 L1119.3,1554.8 L1122.2,1554.0 L1125.0,1553.2 L1127.9,1552.3 L1130.8,1551.5 L1133.7,1550.7 L1136.6,1549.9 L1139.5,1549.1 L1142.4,1548.3 L1145.3,1547.5 L1148.2,1546.7 L1151.0,1545.9 L1153.9,1545.1 L1156.8,1544.3 L1159.7,1543.5 L1162.6,1542.7 L1165.5,1542.0 L1168.4,1541.2 L1171.3,1540.4 L1174.2,1539.6 L1177.1,1538.8 L1180.0,1538.1 L1182.9,1537.3 L1185.8,1536.5 L1188.7,1535.8 L1191.6,1535.0 L1194.5,1534.2 L1197.4,1533.4 L1200.3,1532.7 L1203.2,1531.9 L1206.1,1531.1 L1209.0,1530.4 L1211.9,1529.6 L1214.8,1528.8 L1217.7,1528.1 L1220.6,1527.3 L1223.5,1526.5 L1226.4,1525.7 L1229.3,1525.0 L1232.2,1524.2 L1235.1,1523.4 L1238.0,1522.6 L1240.9,1521.9 L1243.8,1521.1 L1246.7,1520.3 L1249.6,1519.5 L1252.5,1518.8 L1255.4,1518.0 L1258.3,1517.2 L1261.2,1516.4 L1264.1,1515.7 L1267.0,1514.9 L1269.9,1514.1 L1272.8,1513.4 L1275.7,1512.6 L1278.6,1511.8 L1281.5,1511.1 L1284.4,1510.3 L1287.3,1509.6 L1290.2,1508.8 L1293.1,1508.1 L1296.0,1507.3 L1298.9,1506.6 L1301.8,1505.8 L1304.7,1505.1 L1307.6,1504.3 L1310.5,1503.6 L1313.4,1502.9 L1316.4,1502.1 L1319.3,1501.4 L1322.2,1500.7 L1325.1,1500.0 L1328.0,1499.3 L1330.9,1498.5 L1333.8,1497.8 L1336.7,1497.1 L1339.7,1496.4 L1342.6,1495.8 L1345.5,1495.1 L1348.4,1494.4 L1351.3,1493.7 L1354.3,1493.0 L1357.2,1492.4 L1360.1,1491.7 L1363.1,1491.1 L1366.0,1490.4 L1368.9,1489.8 L1371.8,1489.1 L1374.8,1488.5 L1377.7,1487.9 L1380.6,1487.2 L1383.6,1486.6 L1386.5,1486.0 L1389.5,1485.4 L1392.4,1484.8 L1395.3,1484.3 L1398.3,1483.7 L1401.2,1483.1 L1404.2,1482.5 L1407.1,1482.0 L1410.1,1481.4 L1413.0,1480.9 L1416.0,1480.3 L1418.9,1479.8 L1421.9,1479.3 L1424.8,1478.8 L1427.8,1478.2 L1430.7,1477.7 L1433.7,1477.2 L1436.7,1476.7 L1439.6,1476.2 L1442.6,1475.8 L1445.5,1475.3 L1448.5,1474.8 L1451.5,1474.3 L1454.4,1473.9 L1457.4,1473.4 L1460.4,1473.0 L1463.3,1472.5 L1466.3,1472.1 L1469.3,1471.6 L1472.2,1471.2 L1475.2,1470.8 L1478.2,1470.4 L1481.1,1470.0 L1484.1,1469.5 L1487.1,1469.1 L1490.1,1468.7 L1493.0,1468.4 L1496.0,1468.0 L1499.0,1467.6 L1502.0,1467.2 L1504.9,1466.8 L1507.9,1466.5 L1510.9,1466.1 L1513.9,1465.8 L1516.9,1465.4 L1519.8,1465.1 L1522.8,1464.7 L1525.8,1464.4 L1528.8,1464.0 L1531.8,1463.7 L1534.7,1463.4 L1537.7,1463.1 L1540.7,1462.8 L1543.7,1462.5 L1546.7,1462.2 L1549.7,1461.9 L1552.7,1461.6 L1555.6,1461.3 L1558.6,1461.0 L1561.6,1460.7 L1564.6,1460.4 L1567.6,1460.2 L1570.6,1459.9 L1573.6,1459.6 L1576.6,1459.4 L1579.5,1459.1 L1582.5,1458.8 L1585.5,1458.6 L1588.5,1458.4 L1591.5,1458.1 L1594.5,1457.9 L1597.5,1457.6 L1600.5,1457.4 L1603.5,1457.2 L1606.5,1457.0 L1609.4,1456.7 L1612.4,1456.5 L1615.4,1456.3 L1618.4,1456.1 L1621.4,1455.9 L1624.4,1455.7 L1627.4,1455.5 L1630.4,1455.3 L1633.4,1455.1 L1636.4,1454.9 L1639.4,1454.8 L1642.4,1454.6 L1645.4,1454.4 L1648.4,1454.2 L1651.4,1454.0 L1654.4,1453.9 L1657.4,1453.7 L1660.3,1453.6 L1663.3,1453.4 L1666.3,1453.2 L1669.3,1453.1 L1672.3,1452.9 L1675.3,1452.8 L1678.3,1452.6 L1681.3,1452.5 L1684.3,1452.4 L1687.3,1452.2 L1690.3,1452.1 L1693.3,1452.0 L1696.3,1451.8 L1699.3,1451.7 L1702.3,1451.6 L1705.3,1451.5 L1708.3,1451.3 L1711.3,1451.2 L1714.3,1451.1 L1717.3,1451.0 L1720.3,1450.9 L1723.3,1450.8 L1726.3,1450.7 L1729.3,1450.6 L1732.3,1450.5 L1735.3,1450.4 L1738.3,1450.3 L1741.3,1450.2 L1744.3,1450.1 L1747.3,1450.0 L1750.3,1449.9 L1753.3,1449.8 L1756.3,1449.7 L1759.3,1449.6 L1762.3,1449.5 L1765.3,1449.4 L1768.3,1449.4 L1771.3,1449.3 L1774.3,1449.2 L1777.3,1449.1 L1780.3,1449.1 L1783.3,1449.0 L1786.3,1448.9 L1789.3,1448.8 L1792.3,1448.8 L1795.3,1448.7 L1798.3,1448.6 L1801.3,1448.6 L1804.3,1448.5 L1807.3,1448.4 L1810.2,1448.4 L1813.2,1448.3 L1816.2,1448.2 L1819.2,1448.2 L1822.2,1448.1 L1825.2,1448.1 L1828.2,1448.0 L1831.2,1447.9 L1834.2,1447.9 L1837.2,1447.8 L1840.2,1447.8 L1843.2,1447.7 L1846.2,1447.7 L1849.2,1447.6 L1852.2,1447.6 L1855.2,1447.5 L1858.2,1447.4 L1861.2,1447.4 L1864.2,1447.3 L1867.2,1447.3 L1870.2,1447.2 L1873.2,1447.2 L1876.2,1447.1 L1879.2,1447.1 L1882.2,1447.0 L1885.2,1447.0 L1888.2,1446.9 L1891.2,1446.9 L1894.2,1446.8 L1897.2,1446.8 L1900.2,1446.7 L1903.2,1446.7 L1906.2,1446.6 L1909.2,1446.6 L1912.2,1446.5 L1915.2,1446.4 L1918.2,1446.4 L1921.2,1446.3 L1924.2,1446.3 L1927.2,1446.2 L1930.2,1446.2 L1933.2,1446.1 L1936.2,1446.0 L1939.2,1446.0 L1942.2,1445.9 L1945.2,1445.9 L1948.2,1445.8 L1951.2,1445.7 L1954.2,1445.7 L1957.2,1445.6 L1960.2,1445.6 L1963.2,1445.5 L1966.2,1445.4 L1969.2,1445.4 L1972.2,1445.3 L1975.2,1445.2 L1978.2,1445.1 L1981.2,1445.1 L1984.2,1445.0 L1987.2,1444.9 L1990.2,1444.8 L1993.2,1444.8 L1996.2,1444.7 L1999.2,1444.6 L2002.2,1444.5 L2003.0,1444.5" fill="none" stroke="#000" stroke-width="15" stroke-linejoin="round" stroke-linecap="butt"/>
</g>
<g fill="#000">
<rect x="350" y="17" width="1656" height="7"/>
<rect x="350" y="17" width="6" height="2606"/>
<rect x="1999" y="17" width="7" height="2606"/>
<rect x="350" y="1317" width="1656" height="6"/>
<rect x="350" y="2616" width="1656" height="7"/>
<rect x="356" y="76.5" width="35" height="6"/>
<rect x="356" y="135.6" width="72" height="6"/>
<rect x="356" y="194.7" width="35" height="6"/>
<rect x="356" y="253.7" width="35" height="6"/>
<rect x="356" y="312.8" width="35" height="6"/>
<rect x="356" y="371.9" width="35" height="6"/>
<rect x="356" y="431.0" width="72" height="6"/>
<rect x="356" y="490.0" width="35" height="6"/>
<rect x="356" y="549.1" width="35" height="6"/>
<rect x="356" y="608.2" width="35" height="6"/>
<rect x="356" y="667.2" width="35" height="6"/>
<rect x="356" y="726.3" width="72" height="6"/>
<rect x="356" y="785.4" width="35" height="6"/>
<rect x="356" y="844.4" width="35" height="6"/>
<rect x="356" y="903.5" width="35" height="6"/>
<rect x="356" y="962.6" width="35" height="6"/>
<rect x="356" y="1021.7" width="72" height="6"/>
<rect x="356" y="1080.7" width="35" height="6"/>
<rect x="356" y="1139.8" width="35" height="6"/>
<rect x="356" y="1198.9" width="35" height="6"/>
<rect x="356" y="1257.9" width="35" height="6"/>
<rect x="396.6" y="1283.0" width="7" height="34"/>
<rect x="443.8" y="1283.0" width="7" height="34"/>
<rect x="490.9" y="1283.0" width="7" height="34"/>
<rect x="538.0" y="1283.0" width="7" height="34"/>
<rect x="585.1" y="1245.0" width="7" height="72"/>
<rect x="632.3" y="1283.0" width="7" height="34"/>
<rect x="679.4" y="1283.0" width="7" height="34"/>
<rect x="726.5" y="1283.0" width="7" height="34"/>
<rect x="773.7" y="1283.0" width="7" height="34"/>
<rect x="820.8" y="1245.0" width="7" height="72"/>
<rect x="867.9" y="1283.0" width="7" height="34"/>
<rect x="915.0" y="1283.0" width="7" height="34"/>
<rect x="962.2" y="1283.0" width="7" height="34"/>
<rect x="1009.3" y="1283.0" width="7" height="34"/>
<rect x="1056.4" y="1245.0" width="7" height="72"/>
<rect x="1103.5" y="1283.0" width="7" height="34"/>
<rect x="1150.7" y="1283.0" width="7" height="34"/>
<rect x="1197.8" y="1283.0" width="7" height="34"/>
<rect x="1244.9" y="1283.0" width="7" height="34"/>
<rect x="1292.1" y="1245.0" width="7" height="72"/>
<rect x="1339.2" y="1283.0" width="7" height="34"/>
<rect x="1386.3" y="1283.0" width="7" height="34"/>
<rect x="1433.4" y="1283.0" width="7" height="34"/>
<rect x="1480.6" y="1283.0" width="7" height="34"/>
<rect x="1527.7" y="1245.0" width="7" height="72"/>
<rect x="1574.8" y="1283.0" width="7" height="34"/>
<rect x="1622.0" y="1283.0" width="7" height="34"/>
<rect x="1669.1" y="1283.0" width="7" height="34"/>
<rect x="1716.2" y="1283.0" width="7" height="34"/>
<rect x="1763.3" y="1245.0" width="7" height="72"/>
<rect x="1810.5" y="1283.0" width="7" height="34"/>
<rect x="1857.6" y="1283.0" width="7" height="34"/>
<rect x="1904.7" y="1283.0" width="7" height="34"/>
<rect x="1951.9" y="1283.0" width="7" height="34"/>
<rect x="356" y="1376.0" width="35" height="6"/>
<rect x="356" y="1435.1" width="72" height="6"/>
<rect x="356" y="1494.2" width="35" height="6"/>
<rect x="356" y="1553.2" width="35" height="6"/>
<rect x="356" y="1612.3" width="35" height="6"/>
<rect x="356" y="1671.4" width="35" height="6"/>
<rect x="356" y="1730.4" width="72" height="6"/>
<rect x="356" y="1789.5" width="35" height="6"/>
<rect x="356" y="1848.6" width="35" height="6"/>
<rect x="356" y="1907.7" width="35" height="6"/>
<rect x="356" y="1966.7" width="35" height="6"/>
<rect x="356" y="2025.8" width="72" height="6"/>
<rect x="356" y="2084.9" width="35" height="6"/>
<rect x="356" y="2143.9" width="35" height="6"/>
<rect x="356" y="2203.0" width="35" height="6"/>
<rect x="356" y="2262.1" width="35" height="6"/>
<rect x="356" y="2321.2" width="72" height="6"/>
<rect x="356" y="2380.2" width="35" height="6"/>
<rect x="356" y="2439.3" width="35" height="6"/>
<rect x="356" y="2498.4" width="35" height="6"/>
<rect x="356" y="2557.4" width="35" height="6"/>
<rect x="396.6" y="2582.5" width="7" height="34"/>
<rect x="443.8" y="2582.5" width="7" height="34"/>
<rect x="490.9" y="2582.5" width="7" height="34"/>
<rect x="538.0" y="2582.5" width="7" height="34"/>
<rect x="585.1" y="2544.5" width="7" height="72"/>
<rect x="632.3" y="2582.5" width="7" height="34"/>
<rect x="679.4" y="2582.5" width="7" height="34"/>
<rect x="726.5" y="2582.5" width="7" height="34"/>
<rect x="773.7" y="2582.5" width="7" height="34"/>
<rect x="820.8" y="2544.5" width="7" height="72"/>
<rect x="867.9" y="2582.5" width="7" height="34"/>
<rect x="915.0" y="2582.5" width="7" height="34"/>
<rect x="962.2" y="2582.5" width="7" height="34"/>
<rect x="1009.3" y="2582.5" width="7" height="34"/>
<rect x="1056.4" y="2544.5" width="7" height="72"/>
<rect x="1103.5" y="2582.5" width="7" height="34"/>
<rect x="1150.7" y="2582.5" width="7" height="34"/>
<rect x="1197.8" y="2582.5" width="7" height="34"/>
<rect x="1244.9" y="2582.5" width="7" height="34"/>
<rect x="1292.1" y="2544.5" width="7" height="72"/>
<rect x="1339.2" y="2582.5" width="7" height="34"/>
<rect x="1386.3" y="2582.5" width="7" height="34"/>
<rect x="1433.4" y="2582.5" width="7" height="34"/>
<rect x="1480.6" y="2582.5" width="7" height="34"/>
<rect x="1527.7" y="2544.5" width="7" height="72"/>
<rect x="1574.8" y="2582.5" width="7" height="34"/>
<rect x="1622.0" y="2582.5" width="7" height="34"/>
<rect x="1669.1" y="2582.5" width="7" height="34"/>
<rect x="1716.2" y="2582.5" width="7" height="34"/>
<rect x="1763.3" y="2544.5" width="7" height="72"/>
<rect x="1810.5" y="2582.5" width="7" height="34"/>
<rect x="1857.6" y="2582.5" width="7" height="34"/>
<rect x="1904.7" y="2582.5" width="7" height="34"/>
<rect x="1951.9" y="2582.5" width="7" height="34"/>
</g>
<g font-family="Liberation Serif, Times New Roman, serif" fill="#000">
<text transform="matrix(1.0665,0,0,1.0225,264.57,173.44)" font-size="104">0</text>
<text x="157.10 192.25 244.30 267.70" y="469.00" font-size="104">-0.5</text>
<text x="239.67 273.64" y="764.45" font-size="104">-1</text>
<text x="157.10 191.06 244.30 267.70" y="1059.70" font-size="104">-1.5</text>
<text x="231.25 267.24" y="1355.15" font-size="104">-2</text>
<text transform="matrix(1.0665,0,0,1.0225,264.57,1472.94)" font-size="104">0</text>
<text x="157.10 192.25 244.30 267.70" y="1768.50" font-size="104">-0.5</text>
<text x="239.67 273.64" y="2063.95" font-size="104">-1</text>
<text x="157.10 191.06 244.30 267.70" y="2359.20" font-size="104">-1.5</text>
<text x="231.25 267.24" y="2654.65" font-size="104">-2</text>
<text transform="matrix(1.0665,0,0,1.0225,326.52,2727.42)" font-size="104">0</text>
<text transform="matrix(0.8039,0,0,1.0240,572.35,2727.00)" font-size="104">1</text>
<text transform="matrix(1.1101,0,0,1.0210,797.63,2727.00)" font-size="104">2</text>
<text transform="matrix(0.9393,0,0,1.0270,1037.31,2727.41)" font-size="104">3</text>
<text transform="matrix(0.9896,0,0,1.0270,1270.25,2727.00)" font-size="104">4</text>
<text transform="matrix(1.0079,0,0,1.0564,1505.66,2727.38)" font-size="104">5</text>
<text transform="matrix(1.0158,0,0,1.0389,1741.50,2727.40)" font-size="104">6</text>
<text transform="matrix(1.0585,0,0,1.0232,1973.96,2727.83)" font-size="104">7</text>
<text transform="translate(101.9,959.7) rotate(-90)" x="-0.48 75.47 109.50 143.97 178.98 205.36 239.58 315.41 360.66 396.05 424.20 459.10 505.27 551.03" y="0" font-size="104">V(r) (Hartree)</text>
<text transform="translate(101.9,2259.3) rotate(-90)" x="-0.48 75.47 109.50 143.97 178.98 205.36 239.58 315.41 360.66 396.05 424.20 459.10 505.27 551.03" y="0" font-size="104">V(r) (Hartree)</text>
<text x="1074.28 1109.13 1135.51 1170.47" y="2837" font-size="104">r (a<tspan x="1215.94" y="2877.8" font-size="74">0</tspan><tspan x="1252.56" y="2837" font-size="104">)</tspan></text>
<text x="1025.84" y="1193.9" font-size="104">e<tspan x="1071.63" y="1132.7" font-size="74">-</tspan><tspan x="1097.90 1121.37" y="1205.1" font-size="113"> +</tspan><tspan x="1182.60 1208.70 1271.79" y="1193.9" font-size="104"> Zn</tspan></text>
<text x="1025.84" y="2505.0" font-size="104">e<tspan x="1071.63" y="2442.4" font-size="74">-</tspan><tspan x="1097.90 1121.37" y="2516.2" font-size="113"> +</tspan><tspan x="1181.90 1208.32 1277.43" y="2505.0" font-size="104"> Cd</tspan></text>
</g>
<rect x="1480" y="770" width="420" height="500" fill="#fff"/>
<g font-family="Liberation Serif, Times New Roman, serif" fill="#000">
<line x1="1511" y1="839" x2="1657" y2="839" stroke="#ff0000" stroke-width="12" stroke-dasharray="57 32"/>
<text x="1733.26" y="848.2" font-size="73.5">V<tspan x="1786.80 1807.16" y="878.5" font-size="52">st</tspan></text>
<line x1="1511" y1="953.4" x2="1657" y2="953.4" stroke="#008b00" stroke-width="9" stroke-dasharray="43 24 10 24 43 24"/>
<text x="1733.26" y="963.2" font-size="73.5">V<tspan x="1786.69 1809.74 1835.39" y="993.5" font-size="52">exc</tspan></text>
<line x1="1511" y1="1072.8" x2="1657" y2="1072.8" stroke="#0000ff" stroke-width="12" stroke-dasharray="12 33 56 33"/>
<text x="1733.26" y="1077.2" font-size="73.5">V<tspan x="1786.61 1812.64 1838.62" y="1107.5" font-size="52">pol</tspan></text>
<line x1="1511" y1="1193.3" x2="1661" y2="1193.3" stroke="#000" stroke-width="15"/>
<text x="1733.26" y="1203.1" font-size="73.5">V<tspan x="1786.93 1801.10 1827.39" y="1233.4" font-size="52">tot</tspan></text>
</g></svg></body></html>
